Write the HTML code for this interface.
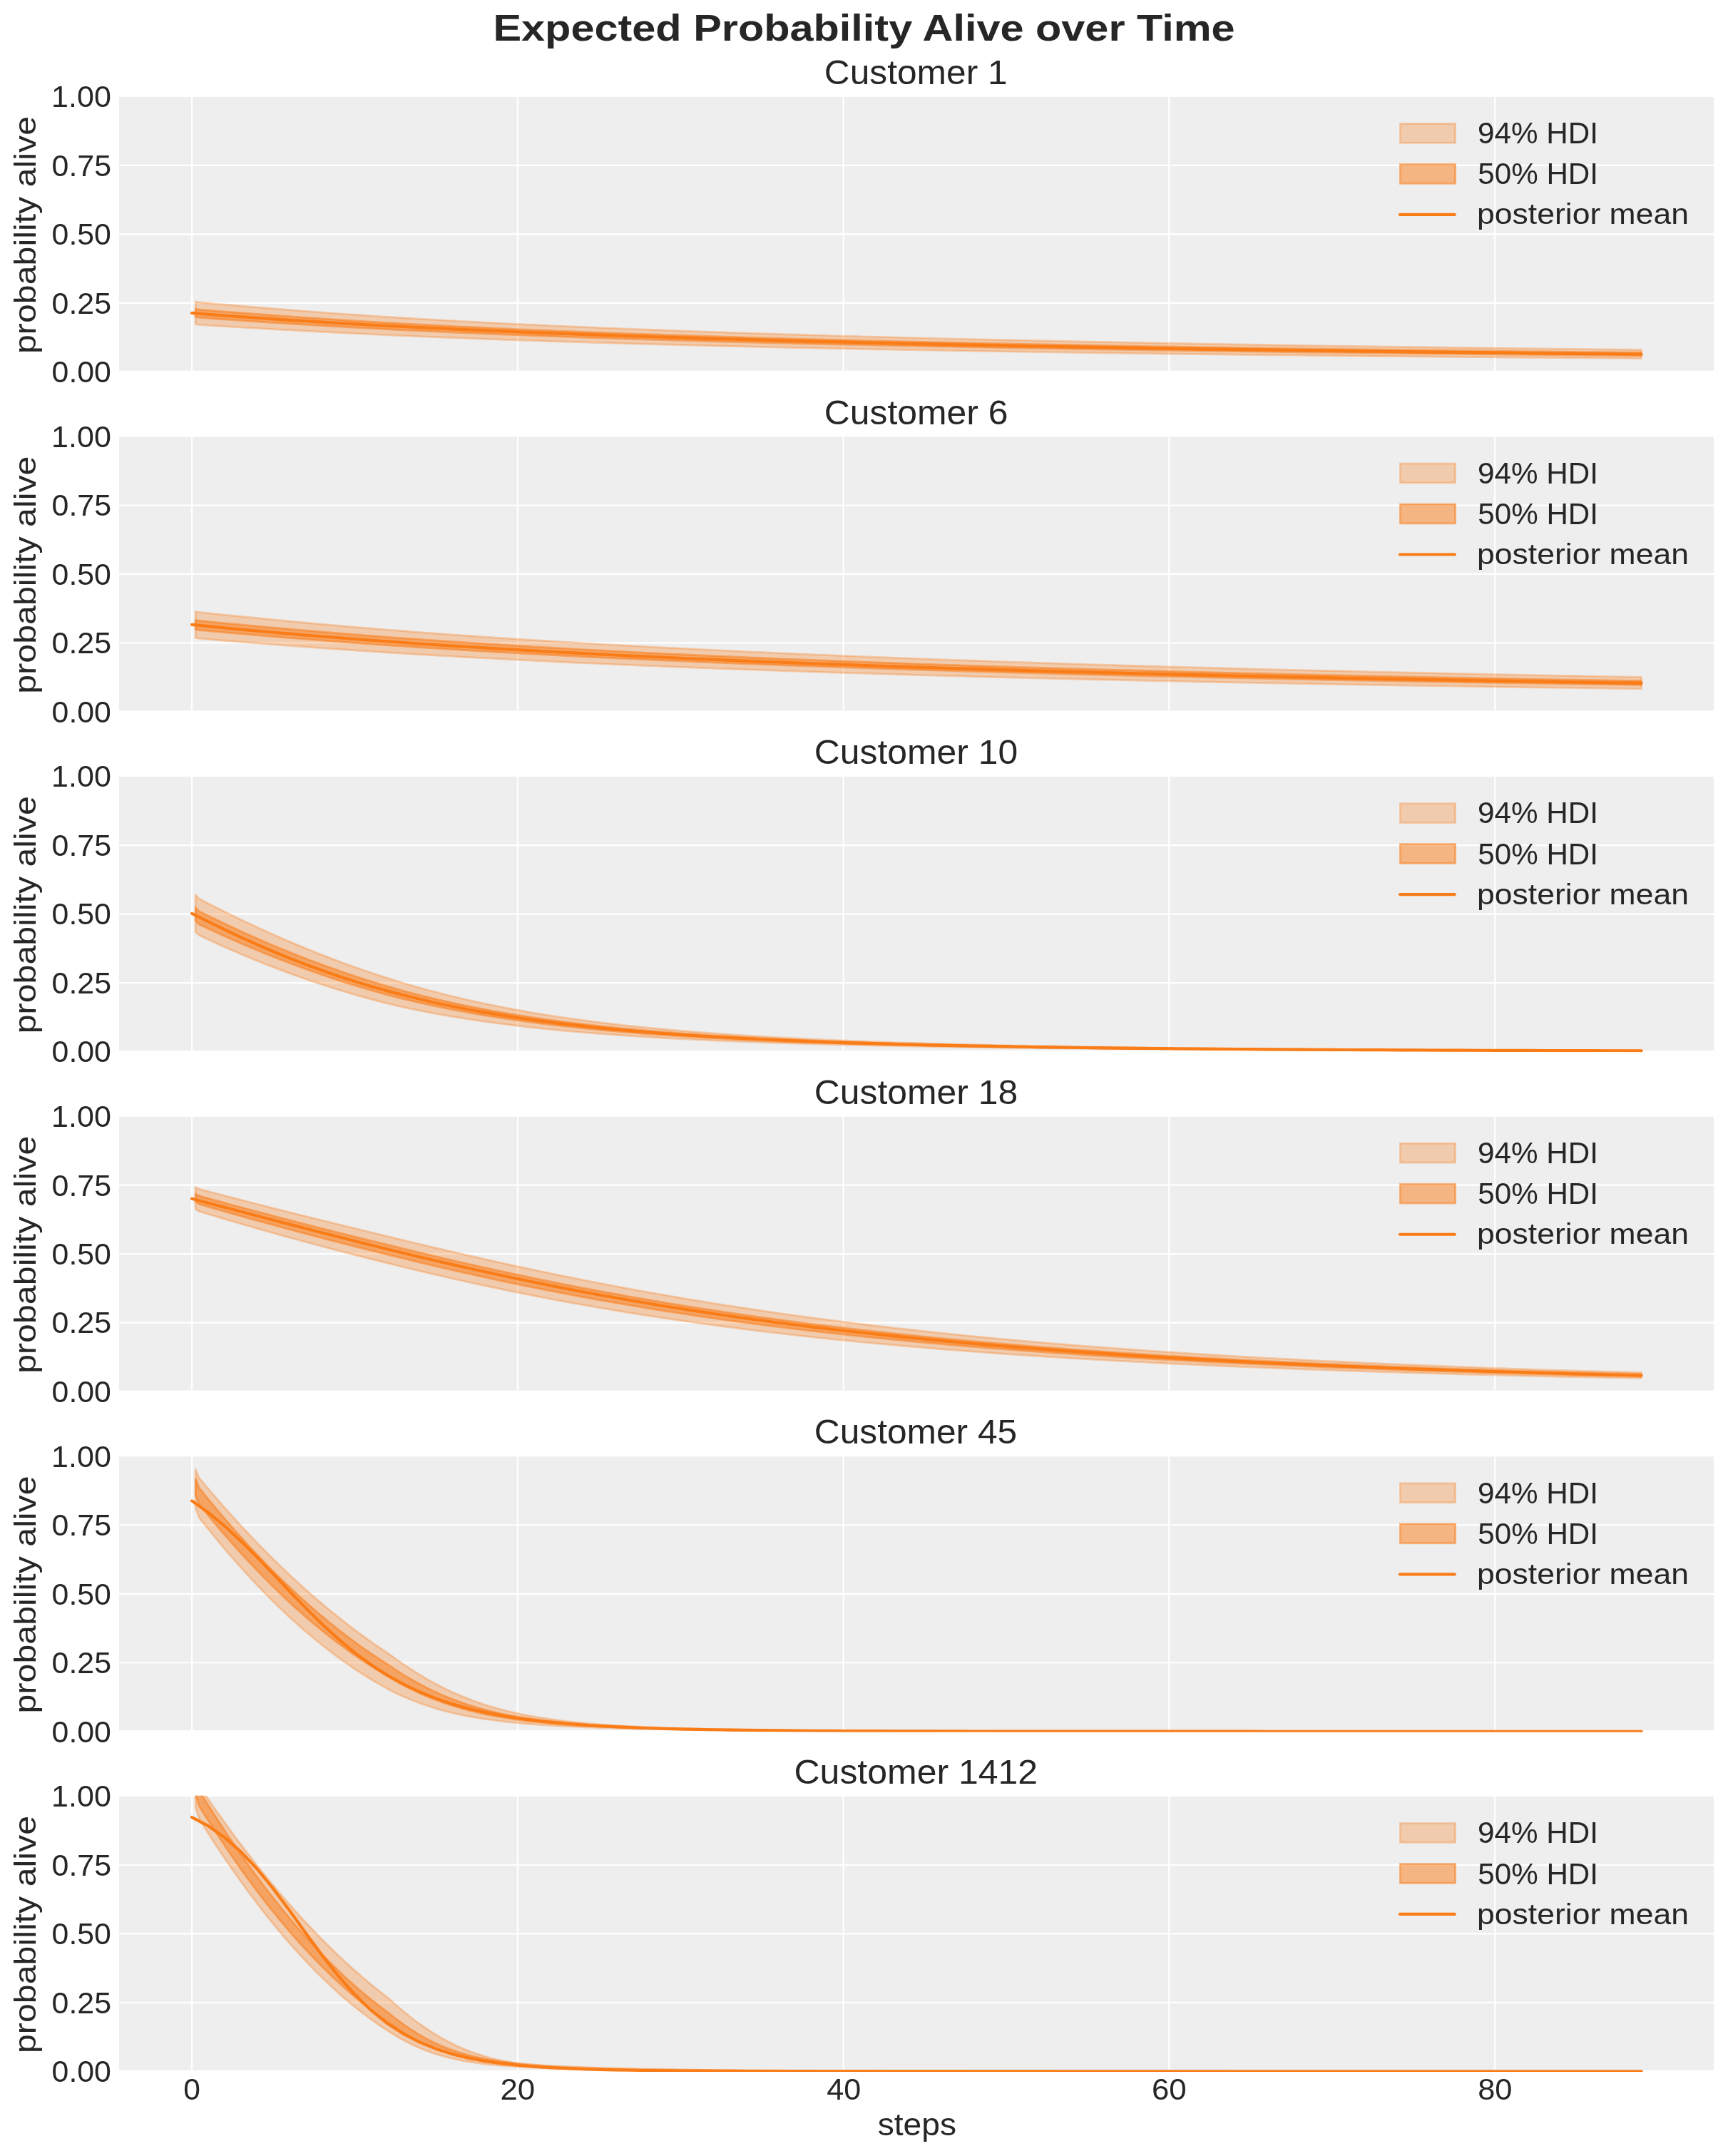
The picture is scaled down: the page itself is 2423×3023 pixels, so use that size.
<!DOCTYPE html><html><head><meta charset="utf-8"><title>Expected Probability Alive over Time</title><style>html,body{margin:0;padding:0;background:#fff;overflow:hidden}svg{display:block}text{font-family:"Liberation Sans",sans-serif}svg{will-change:transform}</style></head><body>
<svg width="2423" height="3023" viewBox="0 0 2423 3023">
<rect x="0" y="0" width="2423" height="3023" fill="#ffffff"/>
<defs>
<clipPath id="c0"><rect x="167.0" y="134.80" width="2236.0" height="387.20"/></clipPath>
<clipPath id="c1"><rect x="167.0" y="611.41" width="2236.0" height="387.20"/></clipPath>
<clipPath id="c2"><rect x="167.0" y="1088.02" width="2236.0" height="387.20"/></clipPath>
<clipPath id="c3"><rect x="167.0" y="1564.63" width="2236.0" height="387.20"/></clipPath>
<clipPath id="c4"><rect x="167.0" y="2041.24" width="2236.0" height="387.20"/></clipPath>
<clipPath id="c5"><rect x="167.0" y="2517.85" width="2236.0" height="387.20"/></clipPath>
</defs>
<text transform="matrix(0.59431 0 0 0.51262 691.44 57.23)" font-size="100" font-weight="bold" fill="#262626">Expected Probability Alive over Time</text>
<g><rect x="167.0" y="136.00" width="2236.0" height="383.7" fill="#eeeeee"/><path d="M269.10,136.00V519.70M725.85,136.00V519.70M1182.60,136.00V519.70M1639.35,136.00V519.70M2096.10,136.00V519.70M167.0,424.82H2403.0M167.0,328.35H2403.0M167.0,231.88H2403.0" stroke="#ffffff" stroke-width="2.2" fill="none"/><g clip-path="url(#c0)"><path d="M274.21,422.89 L279.31,423.83 L289.53,424.75 L299.74,425.67 L309.96,426.57 L320.17,427.47 L330.38,428.35 L340.60,429.22 L350.81,430.08 L361.02,430.93 L371.24,431.78 L381.45,432.61 L391.67,433.43 L401.88,434.24 L412.09,435.04 L422.31,435.82 L432.52,436.60 L442.73,437.37 L452.95,438.13 L463.16,438.88 L473.38,439.61 L483.59,440.34 L493.80,441.05 L504.02,441.76 L514.23,442.45 L524.44,443.14 L534.66,443.81 L544.87,444.47 L555.09,445.12 L565.30,445.74 L575.51,446.36 L585.73,446.96 L595.94,447.56 L606.15,448.15 L616.37,448.73 L626.58,449.29 L636.80,449.85 L647.01,450.41 L657.22,450.95 L667.44,451.49 L677.65,452.02 L687.86,452.54 L698.08,453.05 L708.29,453.56 L718.51,454.06 L728.72,454.55 L738.93,455.03 L749.15,455.51 L759.36,455.98 L769.57,456.45 L779.79,456.91 L790.00,457.36 L800.22,457.81 L810.43,458.25 L820.64,458.68 L830.86,459.11 L841.07,459.53 L851.28,459.95 L861.50,460.36 L871.71,460.77 L881.93,461.17 L892.14,461.57 L902.35,461.96 L912.57,462.35 L922.78,462.73 L932.99,463.11 L943.21,463.48 L953.42,463.85 L963.64,464.22 L973.85,464.57 L984.06,464.93 L994.28,465.28 L1004.49,465.63 L1014.70,465.97 L1024.92,466.31 L1035.13,466.64 L1045.35,466.97 L1055.56,467.30 L1065.77,467.62 L1075.99,467.94 L1086.20,468.26 L1096.41,468.57 L1106.63,468.88 L1116.84,469.18 L1127.06,469.49 L1137.27,469.78 L1147.48,470.08 L1157.70,470.37 L1167.91,470.66 L1178.12,470.95 L1188.34,471.23 L1198.55,471.51 L1208.77,471.78 L1218.98,472.06 L1229.19,472.33 L1239.41,472.60 L1249.62,472.86 L1259.83,473.12 L1270.05,473.38 L1280.26,473.64 L1290.48,473.89 L1300.69,474.15 L1310.90,474.40 L1321.12,474.64 L1331.33,474.89 L1341.54,475.13 L1351.76,475.37 L1361.97,475.60 L1372.19,475.84 L1382.40,476.07 L1392.61,476.30 L1402.83,476.53 L1413.04,476.75 L1423.25,476.98 L1433.47,477.20 L1443.68,477.42 L1453.90,477.63 L1464.11,477.85 L1474.32,478.06 L1484.54,478.27 L1494.75,478.48 L1504.96,478.69 L1515.18,478.89 L1525.39,479.10 L1535.61,479.30 L1545.82,479.50 L1556.03,479.69 L1566.25,479.89 L1576.46,480.08 L1586.67,480.28 L1596.89,480.47 L1607.10,480.66 L1617.32,480.84 L1627.53,481.03 L1637.74,481.21 L1647.96,481.39 L1658.17,481.58 L1668.38,481.75 L1678.60,481.93 L1688.81,482.11 L1699.03,482.28 L1709.24,482.46 L1719.45,482.63 L1729.67,482.80 L1739.88,482.97 L1750.09,483.13 L1760.31,483.30 L1770.52,483.46 L1780.74,483.63 L1790.95,483.79 L1801.16,483.95 L1811.38,484.11 L1821.59,484.27 L1831.80,484.42 L1842.02,484.58 L1852.23,484.73 L1862.45,484.88 L1872.66,485.04 L1882.87,485.19 L1893.09,485.34 L1903.30,485.48 L1913.51,485.63 L1923.73,485.78 L1933.94,485.92 L1944.16,486.06 L1954.37,486.21 L1964.58,486.35 L1974.80,486.49 L1985.01,486.63 L1995.22,486.76 L2005.44,486.90 L2015.65,487.04 L2025.87,487.17 L2036.08,487.31 L2046.29,487.44 L2056.51,487.57 L2066.72,487.70 L2076.93,487.83 L2087.15,487.96 L2097.36,488.09 L2107.58,488.22 L2117.79,488.35 L2128.00,488.47 L2138.22,488.60 L2148.43,488.72 L2158.64,488.84 L2168.86,488.96 L2179.07,489.08 L2189.29,489.20 L2199.50,489.32 L2209.71,489.44 L2219.93,489.55 L2230.14,489.67 L2240.35,489.78 L2250.57,489.89 L2260.78,490.01 L2271.00,490.12 L2281.21,490.23 L2291.42,490.34 L2301.64,490.44 L2301.64,502.54 L2291.42,502.47 L2281.21,502.39 L2271.00,502.32 L2260.78,502.24 L2250.57,502.16 L2240.35,502.08 L2230.14,502.00 L2219.93,501.92 L2209.71,501.84 L2199.50,501.76 L2189.29,501.68 L2179.07,501.60 L2168.86,501.51 L2158.64,501.43 L2148.43,501.34 L2138.22,501.26 L2128.00,501.17 L2117.79,501.08 L2107.58,500.99 L2097.36,500.90 L2087.15,500.82 L2076.93,500.72 L2066.72,500.63 L2056.51,500.54 L2046.29,500.45 L2036.08,500.35 L2025.87,500.26 L2015.65,500.17 L2005.44,500.07 L1995.22,499.98 L1985.01,499.88 L1974.80,499.78 L1964.58,499.68 L1954.37,499.58 L1944.16,499.48 L1933.94,499.38 L1923.73,499.28 L1913.51,499.18 L1903.30,499.08 L1893.09,498.97 L1882.87,498.87 L1872.66,498.76 L1862.45,498.65 L1852.23,498.55 L1842.02,498.44 L1831.80,498.33 L1821.59,498.22 L1811.38,498.11 L1801.16,498.00 L1790.95,497.88 L1780.74,497.77 L1770.52,497.65 L1760.31,497.54 L1750.09,497.42 L1739.88,497.30 L1729.67,497.18 L1719.45,497.06 L1709.24,496.94 L1699.03,496.82 L1688.81,496.70 L1678.60,496.57 L1668.38,496.45 L1658.17,496.32 L1647.96,496.19 L1637.74,496.06 L1627.53,495.93 L1617.32,495.80 L1607.10,495.67 L1596.89,495.53 L1586.67,495.40 L1576.46,495.26 L1566.25,495.12 L1556.03,494.99 L1545.82,494.85 L1535.61,494.70 L1525.39,494.56 L1515.18,494.42 L1504.96,494.27 L1494.75,494.12 L1484.54,493.98 L1474.32,493.83 L1464.11,493.67 L1453.90,493.52 L1443.68,493.37 L1433.47,493.21 L1423.25,493.05 L1413.04,492.89 L1402.83,492.73 L1392.61,492.57 L1382.40,492.41 L1372.19,492.24 L1361.97,492.08 L1351.76,491.91 L1341.54,491.74 L1331.33,491.56 L1321.12,491.39 L1310.90,491.21 L1300.69,491.04 L1290.48,490.86 L1280.26,490.68 L1270.05,490.49 L1259.83,490.31 L1249.62,490.12 L1239.41,489.93 L1229.19,489.74 L1218.98,489.55 L1208.77,489.35 L1198.55,489.15 L1188.34,488.95 L1178.12,488.75 L1167.91,488.55 L1157.70,488.34 L1147.48,488.13 L1137.27,487.92 L1127.06,487.71 L1116.84,487.49 L1106.63,487.27 L1096.41,487.05 L1086.20,486.83 L1075.99,486.60 L1065.77,486.37 L1055.56,486.14 L1045.35,485.91 L1035.13,485.67 L1024.92,485.43 L1014.70,485.19 L1004.49,484.95 L994.28,484.70 L984.06,484.45 L973.85,484.19 L963.64,483.94 L953.42,483.67 L943.21,483.41 L932.99,483.14 L922.78,482.87 L912.57,482.60 L902.35,482.32 L892.14,482.04 L881.93,481.76 L871.71,481.47 L861.50,481.18 L851.28,480.88 L841.07,480.59 L830.86,480.28 L820.64,479.98 L810.43,479.67 L800.22,479.35 L790.00,479.03 L779.79,478.71 L769.57,478.38 L759.36,478.05 L749.15,477.71 L738.93,477.37 L728.72,477.02 L718.51,476.67 L708.29,476.32 L698.08,475.96 L687.86,475.59 L677.65,475.22 L667.44,474.84 L657.22,474.46 L647.01,474.07 L636.80,473.68 L626.58,473.28 L616.37,472.88 L606.15,472.47 L595.94,472.05 L585.73,471.63 L575.51,471.20 L565.30,470.76 L555.09,470.32 L544.87,469.86 L534.66,469.39 L524.44,468.92 L514.23,468.43 L504.02,467.95 L493.80,467.45 L483.59,466.95 L473.38,466.44 L463.16,465.92 L452.95,465.39 L442.73,464.86 L432.52,464.32 L422.31,463.78 L412.09,463.22 L401.88,462.66 L391.67,462.10 L381.45,461.52 L371.24,460.94 L361.02,460.35 L350.81,459.76 L340.60,459.16 L330.38,458.55 L320.17,457.93 L309.96,457.30 L299.74,456.67 L289.53,456.04 L279.31,455.39 L274.21,454.74Z" fill="#fa7c17" fill-opacity="0.3" stroke="#fa7c17" stroke-opacity="0.3" stroke-width="2.78" stroke-linejoin="round"/><path d="M274.21,433.22 L279.31,434.06 L289.53,434.89 L299.74,435.71 L309.96,436.53 L320.17,437.33 L330.38,438.12 L340.60,438.91 L350.81,439.68 L361.02,440.45 L371.24,441.21 L381.45,441.96 L391.67,442.69 L401.88,443.42 L412.09,444.14 L422.31,444.85 L432.52,445.55 L442.73,446.25 L452.95,446.93 L463.16,447.60 L473.38,448.27 L483.59,448.92 L493.80,449.57 L504.02,450.20 L514.23,450.83 L524.44,451.45 L534.66,452.05 L544.87,452.65 L555.09,453.24 L565.30,453.80 L575.51,454.36 L585.73,454.91 L595.94,455.44 L606.15,455.98 L616.37,456.50 L626.58,457.01 L636.80,457.52 L647.01,458.02 L657.22,458.51 L667.44,459.00 L677.65,459.48 L687.86,459.95 L698.08,460.42 L708.29,460.87 L718.51,461.33 L728.72,461.77 L738.93,462.21 L749.15,462.65 L759.36,463.07 L769.57,463.50 L779.79,463.91 L790.00,464.32 L800.22,464.73 L810.43,465.13 L820.64,465.52 L830.86,465.91 L841.07,466.30 L851.28,466.67 L861.50,467.05 L871.71,467.42 L881.93,467.78 L892.14,468.14 L902.35,468.50 L912.57,468.85 L922.78,469.20 L932.99,469.54 L943.21,469.88 L953.42,470.21 L963.64,470.54 L973.85,470.87 L984.06,471.19 L994.28,471.51 L1004.49,471.83 L1014.70,472.14 L1024.92,472.44 L1035.13,472.75 L1045.35,473.05 L1055.56,473.35 L1065.77,473.64 L1075.99,473.93 L1086.20,474.22 L1096.41,474.50 L1106.63,474.78 L1116.84,475.06 L1127.06,475.33 L1137.27,475.60 L1147.48,475.87 L1157.70,476.14 L1167.91,476.40 L1178.12,476.66 L1188.34,476.91 L1198.55,477.17 L1208.77,477.42 L1218.98,477.67 L1229.19,477.91 L1239.41,478.16 L1249.62,478.40 L1259.83,478.63 L1270.05,478.87 L1280.26,479.10 L1290.48,479.33 L1300.69,479.56 L1310.90,479.79 L1321.12,480.01 L1331.33,480.23 L1341.54,480.45 L1351.76,480.67 L1361.97,480.89 L1372.19,481.10 L1382.40,481.31 L1392.61,481.52 L1402.83,481.72 L1413.04,481.93 L1423.25,482.13 L1433.47,482.33 L1443.68,482.53 L1453.90,482.73 L1464.11,482.92 L1474.32,483.12 L1484.54,483.31 L1494.75,483.50 L1504.96,483.69 L1515.18,483.87 L1525.39,484.06 L1535.61,484.24 L1545.82,484.42 L1556.03,484.60 L1566.25,484.78 L1576.46,484.95 L1586.67,485.13 L1596.89,485.30 L1607.10,485.47 L1617.32,485.64 L1627.53,485.81 L1637.74,485.98 L1647.96,486.14 L1658.17,486.30 L1668.38,486.47 L1678.60,486.63 L1688.81,486.79 L1699.03,486.95 L1709.24,487.10 L1719.45,487.26 L1729.67,487.41 L1739.88,487.57 L1750.09,487.72 L1760.31,487.87 L1770.52,488.02 L1780.74,488.16 L1790.95,488.31 L1801.16,488.46 L1811.38,488.60 L1821.59,488.74 L1831.80,488.89 L1842.02,489.03 L1852.23,489.17 L1862.45,489.30 L1872.66,489.44 L1882.87,489.58 L1893.09,489.71 L1903.30,489.85 L1913.51,489.98 L1923.73,490.11 L1933.94,490.24 L1944.16,490.37 L1954.37,490.50 L1964.58,490.63 L1974.80,490.75 L1985.01,490.88 L1995.22,491.01 L2005.44,491.13 L2015.65,491.25 L2025.87,491.37 L2036.08,491.50 L2046.29,491.62 L2056.51,491.74 L2066.72,491.86 L2076.93,491.97 L2087.15,492.09 L2097.36,492.21 L2107.58,492.32 L2117.79,492.44 L2128.00,492.55 L2138.22,492.66 L2148.43,492.77 L2158.64,492.88 L2168.86,492.99 L2179.07,493.10 L2189.29,493.21 L2199.50,493.32 L2209.71,493.42 L2219.93,493.53 L2230.14,493.63 L2240.35,493.73 L2250.57,493.84 L2260.78,493.94 L2271.00,494.04 L2281.21,494.14 L2291.42,494.24 L2301.64,494.33 L2301.64,498.66 L2291.42,498.58 L2281.21,498.49 L2271.00,498.40 L2260.78,498.32 L2250.57,498.23 L2240.35,498.14 L2230.14,498.05 L2219.93,497.96 L2209.71,497.86 L2199.50,497.77 L2189.29,497.68 L2179.07,497.58 L2168.86,497.49 L2158.64,497.39 L2148.43,497.29 L2138.22,497.19 L2128.00,497.10 L2117.79,497.00 L2107.58,496.90 L2097.36,496.79 L2087.15,496.69 L2076.93,496.59 L2066.72,496.48 L2056.51,496.38 L2046.29,496.27 L2036.08,496.17 L2025.87,496.06 L2015.65,495.95 L2005.44,495.84 L1995.22,495.73 L1985.01,495.62 L1974.80,495.51 L1964.58,495.40 L1954.37,495.29 L1944.16,495.18 L1933.94,495.06 L1923.73,494.95 L1913.51,494.83 L1903.30,494.71 L1893.09,494.59 L1882.87,494.47 L1872.66,494.35 L1862.45,494.23 L1852.23,494.11 L1842.02,493.99 L1831.80,493.86 L1821.59,493.74 L1811.38,493.61 L1801.16,493.49 L1790.95,493.36 L1780.74,493.23 L1770.52,493.10 L1760.31,492.96 L1750.09,492.83 L1739.88,492.70 L1729.67,492.56 L1719.45,492.43 L1709.24,492.29 L1699.03,492.15 L1688.81,492.01 L1678.60,491.87 L1668.38,491.73 L1658.17,491.58 L1647.96,491.44 L1637.74,491.29 L1627.53,491.14 L1617.32,491.00 L1607.10,490.85 L1596.89,490.69 L1586.67,490.54 L1576.46,490.39 L1566.25,490.23 L1556.03,490.07 L1545.82,489.91 L1535.61,489.75 L1525.39,489.59 L1515.18,489.43 L1504.96,489.26 L1494.75,489.10 L1484.54,488.93 L1474.32,488.76 L1464.11,488.59 L1453.90,488.42 L1443.68,488.24 L1433.47,488.07 L1423.25,487.89 L1413.04,487.71 L1402.83,487.53 L1392.61,487.34 L1382.40,487.16 L1372.19,486.97 L1361.97,486.78 L1351.76,486.59 L1341.54,486.40 L1331.33,486.21 L1321.12,486.01 L1310.90,485.81 L1300.69,485.61 L1290.48,485.41 L1280.26,485.20 L1270.05,485.00 L1259.83,484.79 L1249.62,484.58 L1239.41,484.36 L1229.19,484.15 L1218.98,483.93 L1208.77,483.71 L1198.55,483.48 L1188.34,483.26 L1178.12,483.03 L1167.91,482.80 L1157.70,482.57 L1147.48,482.33 L1137.27,482.10 L1127.06,481.85 L1116.84,481.61 L1106.63,481.37 L1096.41,481.12 L1086.20,480.86 L1075.99,480.61 L1065.77,480.35 L1055.56,480.09 L1045.35,479.83 L1035.13,479.56 L1024.92,479.29 L1014.70,479.02 L1004.49,478.74 L994.28,478.46 L984.06,478.18 L973.85,477.89 L963.64,477.60 L953.42,477.31 L943.21,477.01 L932.99,476.71 L922.78,476.41 L912.57,476.10 L902.35,475.79 L892.14,475.47 L881.93,475.15 L871.71,474.83 L861.50,474.50 L851.28,474.17 L841.07,473.83 L830.86,473.49 L820.64,473.14 L810.43,472.79 L800.22,472.44 L790.00,472.08 L779.79,471.72 L769.57,471.35 L759.36,470.97 L749.15,470.59 L738.93,470.21 L728.72,469.82 L718.51,469.42 L708.29,469.02 L698.08,468.61 L687.86,468.20 L677.65,467.78 L667.44,467.36 L657.22,466.93 L647.01,466.49 L636.80,466.05 L626.58,465.60 L616.37,465.14 L606.15,464.68 L595.94,464.21 L585.73,463.73 L575.51,463.25 L565.30,462.75 L555.09,462.25 L544.87,461.74 L534.66,461.21 L524.44,460.67 L514.23,460.12 L504.02,459.57 L493.80,459.01 L483.59,458.44 L473.38,457.86 L463.16,457.28 L452.95,456.68 L442.73,456.08 L432.52,455.47 L422.31,454.85 L412.09,454.23 L401.88,453.59 L391.67,452.95 L381.45,452.30 L371.24,451.64 L361.02,450.97 L350.81,450.30 L340.60,449.61 L330.38,448.92 L320.17,448.22 L309.96,447.51 L299.74,446.80 L289.53,446.07 L279.31,445.34 L274.21,444.60Z" fill="#fa7c17" fill-opacity="0.5" stroke="#fa7c17" stroke-opacity="0.5" stroke-width="2.78" stroke-linejoin="round"/><path d="M269.10,438.93 L291.94,440.74 L314.78,442.48 L337.61,444.15 L360.45,445.77 L383.29,447.33 L406.12,448.83 L428.96,450.28 L451.80,451.68 L474.64,453.03 L497.48,454.33 L520.31,455.60 L543.15,456.82 L565.99,458.00 L588.83,459.14 L611.66,460.25 L634.50,461.32 L657.34,462.36 L680.17,463.37 L703.01,464.35 L725.85,465.30 L748.69,466.22 L771.52,467.12 L794.36,467.99 L817.20,468.83 L840.04,469.66 L862.88,470.46 L885.71,471.24 L908.55,471.99 L931.39,472.73 L954.23,473.45 L977.06,474.15 L999.90,474.83 L1022.74,475.49 L1045.57,476.14 L1068.41,476.77 L1091.25,477.39 L1114.09,477.99 L1136.92,478.57 L1159.76,479.15 L1182.60,479.70 L1205.44,480.25 L1228.28,480.78 L1251.11,481.30 L1273.95,481.81 L1296.79,482.31 L1319.62,482.80 L1342.46,483.27 L1365.30,483.74 L1388.14,484.20 L1410.97,484.64 L1433.81,485.08 L1456.65,485.50 L1479.49,485.92 L1502.32,486.33 L1525.16,486.73 L1548.00,487.13 L1570.84,487.51 L1593.67,487.89 L1616.51,488.26 L1639.35,488.62 L1662.19,488.98 L1685.03,489.33 L1707.86,489.67 L1730.70,490.01 L1753.54,490.33 L1776.38,490.66 L1799.21,490.98 L1822.05,491.29 L1844.89,491.59 L1867.72,491.89 L1890.56,492.19 L1913.40,492.48 L1936.24,492.76 L1959.07,493.04 L1981.91,493.32 L2004.75,493.59 L2027.59,493.85 L2050.42,494.11 L2073.26,494.37 L2096.10,494.62 L2118.94,494.87 L2141.78,495.11 L2164.61,495.35 L2187.45,495.59 L2210.29,495.82 L2233.12,496.05 L2255.96,496.28 L2278.80,496.50 L2301.64,496.71" fill="none" stroke="#fa7c17" stroke-width="4.17" stroke-linecap="round" stroke-linejoin="round"/></g><rect x="1963.4" y="173.40" width="77.2" height="26.9" fill="#fa7c17" fill-opacity="0.3" stroke="#fa7c17" stroke-opacity="0.3" stroke-width="2.78"/><rect x="1963.4" y="230.40" width="77.2" height="26.9" fill="#fa7c17" fill-opacity="0.5" stroke="#fa7c17" stroke-opacity="0.5" stroke-width="2.78"/><path d="M1963.0,300.90H2039.8" stroke="#fa7c17" stroke-width="4.17" stroke-linecap="round"/><text transform="matrix(0.42225 0 0 0.43099 2072.10 201.27)" font-size="100" fill="#262626">94% HDI</text><text transform="matrix(0.42171 0 0 0.42817 2072.31 258.47)" font-size="100" fill="#262626">50% HDI</text><text transform="matrix(0.44511 0 0 0.40642 2071.11 314.47)" font-size="100" fill="#262626">posterior mean</text><text transform="matrix(0.49704 0 0 0.48028 1155.81 117.92)" font-size="100" fill="#262626">Customer 1</text><text transform="matrix(0 -0.48342 0.42353 0 49.91 496.04)" font-size="100" fill="#262626">probability alive</text><text transform="matrix(0.42781 0 0 0.42676 72.59 536.12)" font-size="100" fill="#262626">0.00</text><text transform="matrix(0.42895 0 0 0.42676 72.58 439.65)" font-size="100" fill="#262626">0.25</text><text transform="matrix(0.42781 0 0 0.42676 72.59 343.17)" font-size="100" fill="#262626">0.50</text><text transform="matrix(0.42895 0 0 0.42676 72.58 246.70)" font-size="100" fill="#262626">0.75</text><text transform="matrix(0.43052 0 0 0.42676 72.07 150.22)" font-size="100" fill="#262626">1.00</text></g>
<g><rect x="167.0" y="612.61" width="2236.0" height="383.7" fill="#eeeeee"/><path d="M269.10,612.61V996.31M725.85,612.61V996.31M1182.60,612.61V996.31M1639.35,612.61V996.31M2096.10,612.61V996.31M167.0,901.43H2403.0M167.0,804.96H2403.0M167.0,708.49H2403.0" stroke="#ffffff" stroke-width="2.2" fill="none"/><g clip-path="url(#c1)"><path d="M274.21,857.33 L279.31,858.42 L289.53,859.49 L299.74,860.56 L309.96,861.61 L320.17,862.66 L330.38,863.69 L340.60,864.72 L350.81,865.73 L361.02,866.74 L371.24,867.73 L381.45,868.72 L391.67,869.70 L401.88,870.66 L412.09,871.62 L422.31,872.56 L432.52,873.50 L442.73,874.42 L452.95,875.34 L463.16,876.25 L473.38,877.14 L483.59,878.03 L493.80,878.91 L504.02,879.77 L514.23,880.63 L524.44,881.48 L534.66,882.31 L544.87,883.14 L555.09,883.96 L565.30,884.75 L575.51,885.54 L585.73,886.32 L595.94,887.08 L606.15,887.84 L616.37,888.59 L626.58,889.33 L636.80,890.06 L647.01,890.78 L657.22,891.50 L667.44,892.20 L677.65,892.90 L687.86,893.59 L698.08,894.27 L708.29,894.95 L718.51,895.61 L728.72,896.27 L738.93,896.93 L749.15,897.57 L759.36,898.21 L769.57,898.84 L779.79,899.46 L790.00,900.08 L800.22,900.69 L810.43,901.29 L820.64,901.89 L830.86,902.48 L841.07,903.06 L851.28,903.64 L861.50,904.21 L871.71,904.78 L881.93,905.34 L892.14,905.89 L902.35,906.44 L912.57,906.98 L922.78,907.52 L932.99,908.05 L943.21,908.57 L953.42,909.09 L963.64,909.61 L973.85,910.12 L984.06,910.62 L994.28,911.12 L1004.49,911.62 L1014.70,912.11 L1024.92,912.59 L1035.13,913.07 L1045.35,913.55 L1055.56,914.02 L1065.77,914.48 L1075.99,914.94 L1086.20,915.40 L1096.41,915.85 L1106.63,916.30 L1116.84,916.75 L1127.06,917.19 L1137.27,917.62 L1147.48,918.05 L1157.70,918.48 L1167.91,918.90 L1178.12,919.32 L1188.34,919.74 L1198.55,920.15 L1208.77,920.56 L1218.98,920.96 L1229.19,921.36 L1239.41,921.76 L1249.62,922.15 L1259.83,922.54 L1270.05,922.92 L1280.26,923.31 L1290.48,923.68 L1300.69,924.06 L1310.90,924.43 L1321.12,924.80 L1331.33,925.17 L1341.54,925.53 L1351.76,925.89 L1361.97,926.24 L1372.19,926.60 L1382.40,926.95 L1392.61,927.29 L1402.83,927.64 L1413.04,927.98 L1423.25,928.32 L1433.47,928.65 L1443.68,928.98 L1453.90,929.31 L1464.11,929.64 L1474.32,929.96 L1484.54,930.28 L1494.75,930.60 L1504.96,930.92 L1515.18,931.23 L1525.39,931.54 L1535.61,931.85 L1545.82,932.16 L1556.03,932.46 L1566.25,932.76 L1576.46,933.06 L1586.67,933.35 L1596.89,933.65 L1607.10,933.94 L1617.32,934.23 L1627.53,934.51 L1637.74,934.80 L1647.96,935.08 L1658.17,935.36 L1668.38,935.63 L1678.60,935.91 L1688.81,936.18 L1699.03,936.45 L1709.24,936.72 L1719.45,936.99 L1729.67,937.25 L1739.88,937.52 L1750.09,937.78 L1760.31,938.04 L1770.52,938.29 L1780.74,938.55 L1790.95,938.80 L1801.16,939.05 L1811.38,939.30 L1821.59,939.55 L1831.80,939.79 L1842.02,940.03 L1852.23,940.28 L1862.45,940.52 L1872.66,940.75 L1882.87,940.99 L1893.09,941.22 L1903.30,941.46 L1913.51,941.69 L1923.73,941.92 L1933.94,942.15 L1944.16,942.37 L1954.37,942.60 L1964.58,942.82 L1974.80,943.04 L1985.01,943.26 L1995.22,943.48 L2005.44,943.69 L2015.65,943.91 L2025.87,944.12 L2036.08,944.34 L2046.29,944.55 L2056.51,944.76 L2066.72,944.97 L2076.93,945.17 L2087.15,945.38 L2097.36,945.58 L2107.58,945.79 L2117.79,945.99 L2128.00,946.19 L2138.22,946.38 L2148.43,946.58 L2158.64,946.78 L2168.86,946.97 L2179.07,947.16 L2189.29,947.35 L2199.50,947.54 L2209.71,947.73 L2219.93,947.91 L2230.14,948.10 L2240.35,948.28 L2250.57,948.46 L2260.78,948.64 L2271.00,948.82 L2281.21,949.00 L2291.42,949.17 L2301.64,949.35 L2301.64,965.81 L2291.42,965.68 L2281.21,965.55 L2271.00,965.42 L2260.78,965.29 L2250.57,965.16 L2240.35,965.03 L2230.14,964.89 L2219.93,964.76 L2209.71,964.62 L2199.50,964.48 L2189.29,964.34 L2179.07,964.20 L2168.86,964.06 L2158.64,963.92 L2148.43,963.77 L2138.22,963.63 L2128.00,963.48 L2117.79,963.34 L2107.58,963.19 L2097.36,963.04 L2087.15,962.89 L2076.93,962.73 L2066.72,962.58 L2056.51,962.43 L2046.29,962.27 L2036.08,962.11 L2025.87,961.95 L2015.65,961.80 L2005.44,961.64 L1995.22,961.48 L1985.01,961.31 L1974.80,961.15 L1964.58,960.99 L1954.37,960.82 L1944.16,960.65 L1933.94,960.48 L1923.73,960.31 L1913.51,960.14 L1903.30,959.97 L1893.09,959.80 L1882.87,959.62 L1872.66,959.45 L1862.45,959.27 L1852.23,959.09 L1842.02,958.91 L1831.80,958.73 L1821.59,958.54 L1811.38,958.36 L1801.16,958.17 L1790.95,957.99 L1780.74,957.80 L1770.52,957.61 L1760.31,957.41 L1750.09,957.22 L1739.88,957.02 L1729.67,956.83 L1719.45,956.63 L1709.24,956.43 L1699.03,956.23 L1688.81,956.02 L1678.60,955.82 L1668.38,955.61 L1658.17,955.40 L1647.96,955.19 L1637.74,954.98 L1627.53,954.77 L1617.32,954.55 L1607.10,954.33 L1596.89,954.11 L1586.67,953.89 L1576.46,953.67 L1566.25,953.44 L1556.03,953.22 L1545.82,952.99 L1535.61,952.76 L1525.39,952.52 L1515.18,952.29 L1504.96,952.05 L1494.75,951.81 L1484.54,951.57 L1474.32,951.33 L1464.11,951.08 L1453.90,950.83 L1443.68,950.58 L1433.47,950.33 L1423.25,950.08 L1413.04,949.82 L1402.83,949.56 L1392.61,949.30 L1382.40,949.04 L1372.19,948.77 L1361.97,948.50 L1351.76,948.23 L1341.54,947.96 L1331.33,947.68 L1321.12,947.40 L1310.90,947.12 L1300.69,946.84 L1290.48,946.55 L1280.26,946.26 L1270.05,945.97 L1259.83,945.67 L1249.62,945.37 L1239.41,945.07 L1229.19,944.77 L1218.98,944.46 L1208.77,944.15 L1198.55,943.84 L1188.34,943.53 L1178.12,943.21 L1167.91,942.88 L1157.70,942.56 L1147.48,942.23 L1137.27,941.90 L1127.06,941.56 L1116.84,941.23 L1106.63,940.88 L1096.41,940.54 L1086.20,940.19 L1075.99,939.84 L1065.77,939.48 L1055.56,939.12 L1045.35,938.76 L1035.13,938.39 L1024.92,938.02 L1014.70,937.65 L1004.49,937.27 L994.28,936.89 L984.06,936.50 L973.85,936.11 L963.64,935.71 L953.42,935.31 L943.21,934.91 L932.99,934.50 L922.78,934.09 L912.57,933.67 L902.35,933.25 L892.14,932.83 L881.93,932.40 L871.71,931.96 L861.50,931.52 L851.28,931.08 L841.07,930.63 L830.86,930.17 L820.64,929.71 L810.43,929.24 L800.22,928.77 L790.00,928.30 L779.79,927.82 L769.57,927.33 L759.36,926.84 L749.15,926.34 L738.93,925.83 L728.72,925.32 L718.51,924.81 L708.29,924.28 L698.08,923.75 L687.86,923.22 L677.65,922.68 L667.44,922.13 L657.22,921.57 L647.01,921.01 L636.80,920.44 L626.58,919.87 L616.37,919.29 L606.15,918.70 L595.94,918.10 L585.73,917.50 L575.51,916.88 L565.30,916.26 L555.09,915.64 L544.87,914.99 L534.66,914.34 L524.44,913.67 L514.23,913.00 L504.02,912.33 L493.80,911.64 L483.59,910.95 L473.38,910.24 L463.16,909.53 L452.95,908.81 L442.73,908.09 L432.52,907.35 L422.31,906.61 L412.09,905.86 L401.88,905.10 L391.67,904.33 L381.45,903.55 L371.24,902.77 L361.02,901.98 L350.81,901.18 L340.60,900.37 L330.38,899.55 L320.17,898.73 L309.96,897.90 L299.74,897.06 L289.53,896.21 L279.31,895.35 L274.21,894.48Z" fill="#fa7c17" fill-opacity="0.3" stroke="#fa7c17" stroke-opacity="0.3" stroke-width="2.78" stroke-linejoin="round"/><path d="M274.21,869.31 L279.31,870.33 L289.53,871.33 L299.74,872.32 L309.96,873.31 L320.17,874.28 L330.38,875.25 L340.60,876.21 L350.81,877.15 L361.02,878.09 L371.24,879.02 L381.45,879.94 L391.67,880.85 L401.88,881.75 L412.09,882.64 L422.31,883.53 L432.52,884.40 L442.73,885.26 L452.95,886.12 L463.16,886.96 L473.38,887.80 L483.59,888.62 L493.80,889.44 L504.02,890.25 L514.23,891.05 L524.44,891.84 L534.66,892.62 L544.87,893.39 L555.09,894.15 L565.30,894.89 L575.51,895.62 L585.73,896.34 L595.94,897.06 L606.15,897.76 L616.37,898.46 L626.58,899.15 L636.80,899.83 L647.01,900.50 L657.22,901.17 L667.44,901.82 L677.65,902.47 L687.86,903.11 L698.08,903.75 L708.29,904.38 L718.51,905.00 L728.72,905.61 L738.93,906.22 L749.15,906.81 L759.36,907.41 L769.57,907.99 L779.79,908.57 L790.00,909.14 L800.22,909.71 L810.43,910.27 L820.64,910.83 L830.86,911.37 L841.07,911.92 L851.28,912.45 L861.50,912.98 L871.71,913.51 L881.93,914.03 L892.14,914.54 L902.35,915.05 L912.57,915.55 L922.78,916.05 L932.99,916.54 L943.21,917.03 L953.42,917.51 L963.64,917.99 L973.85,918.46 L984.06,918.93 L994.28,919.39 L1004.49,919.85 L1014.70,920.31 L1024.92,920.76 L1035.13,921.20 L1045.35,921.64 L1055.56,922.08 L1065.77,922.51 L1075.99,922.94 L1086.20,923.36 L1096.41,923.78 L1106.63,924.19 L1116.84,924.60 L1127.06,925.01 L1137.27,925.41 L1147.48,925.81 L1157.70,926.21 L1167.91,926.60 L1178.12,926.99 L1188.34,927.37 L1198.55,927.75 L1208.77,928.13 L1218.98,928.50 L1229.19,928.87 L1239.41,929.24 L1249.62,929.60 L1259.83,929.96 L1270.05,930.32 L1280.26,930.67 L1290.48,931.02 L1300.69,931.37 L1310.90,931.71 L1321.12,932.05 L1331.33,932.39 L1341.54,932.72 L1351.76,933.06 L1361.97,933.39 L1372.19,933.71 L1382.40,934.03 L1392.61,934.35 L1402.83,934.67 L1413.04,934.99 L1423.25,935.30 L1433.47,935.61 L1443.68,935.91 L1453.90,936.22 L1464.11,936.52 L1474.32,936.82 L1484.54,937.11 L1494.75,937.41 L1504.96,937.70 L1515.18,937.99 L1525.39,938.27 L1535.61,938.56 L1545.82,938.84 L1556.03,939.12 L1566.25,939.40 L1576.46,939.67 L1586.67,939.94 L1596.89,940.21 L1607.10,940.48 L1617.32,940.75 L1627.53,941.01 L1637.74,941.27 L1647.96,941.53 L1658.17,941.79 L1668.38,942.04 L1678.60,942.30 L1688.81,942.55 L1699.03,942.80 L1709.24,943.05 L1719.45,943.29 L1729.67,943.53 L1739.88,943.78 L1750.09,944.02 L1760.31,944.25 L1770.52,944.49 L1780.74,944.72 L1790.95,944.96 L1801.16,945.19 L1811.38,945.42 L1821.59,945.64 L1831.80,945.87 L1842.02,946.09 L1852.23,946.31 L1862.45,946.53 L1872.66,946.75 L1882.87,946.97 L1893.09,947.19 L1903.30,947.40 L1913.51,947.61 L1923.73,947.82 L1933.94,948.03 L1944.16,948.24 L1954.37,948.45 L1964.58,948.65 L1974.80,948.85 L1985.01,949.05 L1995.22,949.25 L2005.44,949.45 L2015.65,949.65 L2025.87,949.85 L2036.08,950.04 L2046.29,950.24 L2056.51,950.43 L2066.72,950.62 L2076.93,950.81 L2087.15,951.00 L2097.36,951.19 L2107.58,951.37 L2117.79,951.56 L2128.00,951.74 L2138.22,951.92 L2148.43,952.10 L2158.64,952.28 L2168.86,952.46 L2179.07,952.63 L2189.29,952.81 L2199.50,952.98 L2209.71,953.15 L2219.93,953.32 L2230.14,953.49 L2240.35,953.66 L2250.57,953.83 L2260.78,953.99 L2271.00,954.15 L2281.21,954.32 L2291.42,954.48 L2301.64,954.64 L2301.64,960.53 L2291.42,960.39 L2281.21,960.24 L2271.00,960.10 L2260.78,959.95 L2250.57,959.80 L2240.35,959.65 L2230.14,959.50 L2219.93,959.35 L2209.71,959.20 L2199.50,959.05 L2189.29,958.89 L2179.07,958.73 L2168.86,958.58 L2158.64,958.42 L2148.43,958.26 L2138.22,958.09 L2128.00,957.93 L2117.79,957.77 L2107.58,957.60 L2097.36,957.43 L2087.15,957.27 L2076.93,957.10 L2066.72,956.93 L2056.51,956.75 L2046.29,956.58 L2036.08,956.41 L2025.87,956.23 L2015.65,956.05 L2005.44,955.88 L1995.22,955.70 L1985.01,955.52 L1974.80,955.34 L1964.58,955.15 L1954.37,954.97 L1944.16,954.78 L1933.94,954.60 L1923.73,954.41 L1913.51,954.22 L1903.30,954.03 L1893.09,953.83 L1882.87,953.64 L1872.66,953.45 L1862.45,953.25 L1852.23,953.05 L1842.02,952.85 L1831.80,952.65 L1821.59,952.44 L1811.38,952.24 L1801.16,952.03 L1790.95,951.83 L1780.74,951.62 L1770.52,951.40 L1760.31,951.19 L1750.09,950.98 L1739.88,950.76 L1729.67,950.54 L1719.45,950.32 L1709.24,950.10 L1699.03,949.88 L1688.81,949.65 L1678.60,949.42 L1668.38,949.20 L1658.17,948.97 L1647.96,948.73 L1637.74,948.50 L1627.53,948.26 L1617.32,948.02 L1607.10,947.78 L1596.89,947.54 L1586.67,947.30 L1576.46,947.05 L1566.25,946.80 L1556.03,946.55 L1545.82,946.30 L1535.61,946.04 L1525.39,945.79 L1515.18,945.53 L1504.96,945.26 L1494.75,945.00 L1484.54,944.73 L1474.32,944.47 L1464.11,944.20 L1453.90,943.92 L1443.68,943.65 L1433.47,943.37 L1423.25,943.09 L1413.04,942.81 L1402.83,942.52 L1392.61,942.23 L1382.40,941.94 L1372.19,941.65 L1361.97,941.35 L1351.76,941.06 L1341.54,940.75 L1331.33,940.45 L1321.12,940.14 L1310.90,939.83 L1300.69,939.52 L1290.48,939.21 L1280.26,938.89 L1270.05,938.57 L1259.83,938.24 L1249.62,937.92 L1239.41,937.59 L1229.19,937.25 L1218.98,936.92 L1208.77,936.58 L1198.55,936.23 L1188.34,935.89 L1178.12,935.54 L1167.91,935.18 L1157.70,934.83 L1147.48,934.47 L1137.27,934.10 L1127.06,933.74 L1116.84,933.37 L1106.63,932.99 L1096.41,932.61 L1086.20,932.23 L1075.99,931.85 L1065.77,931.46 L1055.56,931.06 L1045.35,930.67 L1035.13,930.27 L1024.92,929.86 L1014.70,929.45 L1004.49,929.04 L994.28,928.62 L984.06,928.19 L973.85,927.77 L963.64,927.34 L953.42,926.90 L943.21,926.46 L932.99,926.01 L922.78,925.56 L912.57,925.11 L902.35,924.65 L892.14,924.18 L881.93,923.71 L871.71,923.24 L861.50,922.76 L851.28,922.27 L841.07,921.78 L830.86,921.29 L820.64,920.79 L810.43,920.28 L800.22,919.77 L790.00,919.25 L779.79,918.72 L769.57,918.19 L759.36,917.65 L749.15,917.11 L738.93,916.56 L728.72,916.01 L718.51,915.45 L708.29,914.88 L698.08,914.30 L687.86,913.72 L677.65,913.13 L667.44,912.54 L657.22,911.93 L647.01,911.32 L636.80,910.71 L626.58,910.08 L616.37,909.45 L606.15,908.81 L595.94,908.16 L585.73,907.51 L575.51,906.84 L565.30,906.17 L555.09,905.49 L544.87,904.79 L534.66,904.08 L524.44,903.36 L514.23,902.64 L504.02,901.90 L493.80,901.16 L483.59,900.41 L473.38,899.65 L463.16,898.88 L452.95,898.10 L442.73,897.31 L432.52,896.52 L422.31,895.71 L412.09,894.90 L401.88,894.08 L391.67,893.25 L381.45,892.41 L371.24,891.56 L361.02,890.71 L350.81,889.84 L340.60,888.97 L330.38,888.09 L320.17,887.19 L309.96,886.30 L299.74,885.39 L289.53,884.47 L279.31,883.54 L274.21,882.61Z" fill="#fa7c17" fill-opacity="0.5" stroke="#fa7c17" stroke-opacity="0.5" stroke-width="2.78" stroke-linejoin="round"/><path d="M269.10,875.82 L291.94,878.14 L314.78,880.38 L337.61,882.56 L360.45,884.66 L383.29,886.71 L406.12,888.69 L428.96,890.61 L451.80,892.48 L474.64,894.29 L497.48,896.04 L520.31,897.75 L543.15,899.41 L565.99,901.02 L588.83,902.59 L611.66,904.11 L634.50,905.60 L657.34,907.04 L680.17,908.45 L703.01,909.81 L725.85,911.14 L748.69,912.44 L771.52,913.71 L794.36,914.94 L817.20,916.14 L840.04,917.31 L862.88,918.46 L885.71,919.57 L908.55,920.66 L931.39,921.72 L954.23,922.76 L977.06,923.77 L999.90,924.76 L1022.74,925.73 L1045.57,926.68 L1068.41,927.60 L1091.25,928.50 L1114.09,929.39 L1136.92,930.25 L1159.76,931.09 L1182.60,931.92 L1205.44,932.73 L1228.28,933.52 L1251.11,934.30 L1273.95,935.06 L1296.79,935.80 L1319.62,936.53 L1342.46,937.24 L1365.30,937.94 L1388.14,938.62 L1410.97,939.30 L1433.81,939.95 L1456.65,940.60 L1479.49,941.23 L1502.32,941.85 L1525.16,942.46 L1548.00,943.06 L1570.84,943.65 L1593.67,944.22 L1616.51,944.79 L1639.35,945.34 L1662.19,945.89 L1685.03,946.42 L1707.86,946.95 L1730.70,947.46 L1753.54,947.97 L1776.38,948.47 L1799.21,948.96 L1822.05,949.44 L1844.89,949.91 L1867.72,950.37 L1890.56,950.83 L1913.40,951.28 L1936.24,951.72 L1959.07,952.15 L1981.91,952.58 L2004.75,953.00 L2027.59,953.41 L2050.42,953.82 L2073.26,954.22 L2096.10,954.62 L2118.94,955.00 L2141.78,955.38 L2164.61,955.76 L2187.45,956.13 L2210.29,956.49 L2233.12,956.85 L2255.96,957.21 L2278.80,957.55 L2301.64,957.90" fill="none" stroke="#fa7c17" stroke-width="4.17" stroke-linecap="round" stroke-linejoin="round"/></g><rect x="1963.4" y="650.01" width="77.2" height="26.9" fill="#fa7c17" fill-opacity="0.3" stroke="#fa7c17" stroke-opacity="0.3" stroke-width="2.78"/><rect x="1963.4" y="707.01" width="77.2" height="26.9" fill="#fa7c17" fill-opacity="0.5" stroke="#fa7c17" stroke-opacity="0.5" stroke-width="2.78"/><path d="M1963.0,777.51H2039.8" stroke="#fa7c17" stroke-width="4.17" stroke-linecap="round"/><text transform="matrix(0.42225 0 0 0.43099 2072.10 677.88)" font-size="100" fill="#262626">94% HDI</text><text transform="matrix(0.42171 0 0 0.42817 2072.31 735.08)" font-size="100" fill="#262626">50% HDI</text><text transform="matrix(0.44511 0 0 0.40642 2071.11 791.08)" font-size="100" fill="#262626">posterior mean</text><text transform="matrix(0.49852 0 0 0.48028 1155.81 594.53)" font-size="100" fill="#262626">Customer 6</text><text transform="matrix(0 -0.48342 0.42353 0 49.91 972.65)" font-size="100" fill="#262626">probability alive</text><text transform="matrix(0.42781 0 0 0.42676 72.59 1012.73)" font-size="100" fill="#262626">0.00</text><text transform="matrix(0.42895 0 0 0.42676 72.58 916.26)" font-size="100" fill="#262626">0.25</text><text transform="matrix(0.42781 0 0 0.42676 72.59 819.78)" font-size="100" fill="#262626">0.50</text><text transform="matrix(0.42895 0 0 0.42676 72.58 723.31)" font-size="100" fill="#262626">0.75</text><text transform="matrix(0.43052 0 0 0.42676 72.07 626.83)" font-size="100" fill="#262626">1.00</text></g>
<g><rect x="167.0" y="1089.22" width="2236.0" height="383.7" fill="#eeeeee"/><path d="M269.10,1089.22V1472.92M725.85,1089.22V1472.92M1182.60,1089.22V1472.92M1639.35,1089.22V1472.92M2096.10,1089.22V1472.92M167.0,1378.05H2403.0M167.0,1281.57H2403.0M167.0,1185.10H2403.0" stroke="#ffffff" stroke-width="2.2" fill="none"/><g clip-path="url(#c2)"><path d="M274.21,1254.70 L279.31,1260.09 L289.53,1265.41 L299.74,1270.64 L309.96,1275.80 L320.17,1280.87 L330.38,1285.86 L340.60,1290.77 L350.81,1295.60 L361.02,1300.34 L371.24,1305.01 L381.45,1309.59 L391.67,1314.10 L401.88,1318.52 L412.09,1322.86 L422.31,1327.12 L432.52,1331.30 L442.73,1335.40 L452.95,1339.41 L463.16,1343.35 L473.38,1347.20 L483.59,1350.97 L493.80,1354.67 L504.02,1358.28 L514.23,1361.81 L524.44,1365.25 L534.66,1368.62 L544.87,1371.91 L555.09,1375.15 L565.30,1378.25 L575.51,1381.26 L585.73,1384.17 L595.94,1387.01 L606.15,1389.75 L616.37,1392.42 L626.58,1395.00 L636.80,1397.50 L647.01,1399.92 L657.22,1402.27 L667.44,1404.54 L677.65,1406.74 L687.86,1408.87 L698.08,1410.93 L708.29,1412.92 L718.51,1414.85 L728.72,1416.71 L738.93,1418.52 L749.15,1420.26 L759.36,1421.95 L769.57,1423.57 L779.79,1425.15 L790.00,1426.67 L800.22,1428.14 L810.43,1429.57 L820.64,1430.94 L830.86,1432.27 L841.07,1433.55 L851.28,1434.80 L861.50,1436.00 L871.71,1437.16 L881.93,1438.28 L892.14,1439.36 L902.35,1440.41 L912.57,1441.42 L922.78,1442.40 L932.99,1443.35 L943.21,1444.26 L953.42,1445.15 L963.64,1446.01 L973.85,1446.83 L984.06,1447.63 L994.28,1448.41 L1004.49,1449.16 L1014.70,1449.88 L1024.92,1450.58 L1035.13,1451.26 L1045.35,1451.92 L1055.56,1452.55 L1065.77,1453.17 L1075.99,1453.76 L1086.20,1454.34 L1096.41,1454.90 L1106.63,1455.44 L1116.84,1455.96 L1127.06,1456.47 L1137.27,1456.96 L1147.48,1457.44 L1157.70,1457.90 L1167.91,1458.34 L1178.12,1458.77 L1188.34,1459.19 L1198.55,1459.60 L1208.77,1459.99 L1218.98,1460.37 L1229.19,1460.74 L1239.41,1461.10 L1249.62,1461.45 L1259.83,1461.79 L1270.05,1462.12 L1280.26,1462.43 L1290.48,1462.74 L1300.69,1463.04 L1310.90,1463.33 L1321.12,1463.61 L1331.33,1463.89 L1341.54,1464.15 L1351.76,1464.41 L1361.97,1464.66 L1372.19,1464.90 L1382.40,1465.14 L1392.61,1465.37 L1402.83,1465.59 L1413.04,1465.81 L1423.25,1466.02 L1433.47,1466.22 L1443.68,1466.42 L1453.90,1466.61 L1464.11,1466.80 L1474.32,1466.98 L1484.54,1467.16 L1494.75,1467.33 L1504.96,1467.50 L1515.18,1467.66 L1525.39,1467.82 L1535.61,1467.98 L1545.82,1468.13 L1556.03,1468.27 L1566.25,1468.41 L1576.46,1468.55 L1586.67,1468.69 L1596.89,1468.82 L1607.10,1468.95 L1617.32,1469.07 L1627.53,1469.19 L1637.74,1469.31 L1647.96,1469.42 L1658.17,1469.54 L1668.38,1469.64 L1678.60,1469.75 L1688.81,1469.85 L1699.03,1469.96 L1709.24,1470.05 L1719.45,1470.15 L1729.67,1470.24 L1739.88,1470.33 L1750.09,1470.42 L1760.31,1470.51 L1770.52,1470.59 L1780.74,1470.67 L1790.95,1470.75 L1801.16,1470.83 L1811.38,1470.91 L1821.59,1470.98 L1831.80,1471.06 L1842.02,1471.13 L1852.23,1471.20 L1862.45,1471.26 L1872.66,1471.33 L1882.87,1471.39 L1893.09,1471.46 L1903.30,1471.52 L1913.51,1471.58 L1923.73,1471.64 L1933.94,1471.69 L1944.16,1471.75 L1954.37,1471.80 L1964.58,1471.86 L1974.80,1471.91 L1985.01,1471.96 L1995.22,1472.01 L2005.44,1472.06 L2015.65,1472.10 L2025.87,1472.15 L2036.08,1472.20 L2046.29,1472.24 L2056.51,1472.29 L2066.72,1472.33 L2076.93,1472.38 L2087.15,1472.42 L2097.36,1472.46 L2107.58,1472.50 L2117.79,1472.54 L2128.00,1472.57 L2138.22,1472.61 L2148.43,1472.65 L2158.64,1472.68 L2168.86,1472.71 L2179.07,1472.75 L2189.29,1472.78 L2199.50,1472.81 L2209.71,1472.84 L2219.93,1472.86 L2230.14,1472.89 L2240.35,1472.92 L2250.57,1472.94 L2260.78,1472.96 L2271.00,1472.98 L2281.21,1473.01 L2291.42,1473.03 L2301.64,1473.04 L2301.64,1473.51 L2291.42,1473.49 L2281.21,1473.48 L2271.00,1473.47 L2260.78,1473.45 L2250.57,1473.44 L2240.35,1473.42 L2230.14,1473.41 L2219.93,1473.39 L2209.71,1473.37 L2199.50,1473.35 L2189.29,1473.33 L2179.07,1473.31 L2168.86,1473.29 L2158.64,1473.27 L2148.43,1473.25 L2138.22,1473.23 L2128.00,1473.21 L2117.79,1473.18 L2107.58,1473.16 L2097.36,1473.13 L2087.15,1473.11 L2076.93,1473.08 L2066.72,1473.05 L2056.51,1473.03 L2046.29,1473.00 L2036.08,1472.97 L2025.87,1472.94 L2015.65,1472.91 L2005.44,1472.88 L1995.22,1472.85 L1985.01,1472.82 L1974.80,1472.79 L1964.58,1472.75 L1954.37,1472.72 L1944.16,1472.69 L1933.94,1472.65 L1923.73,1472.62 L1913.51,1472.58 L1903.30,1472.54 L1893.09,1472.50 L1882.87,1472.47 L1872.66,1472.43 L1862.45,1472.39 L1852.23,1472.34 L1842.02,1472.30 L1831.80,1472.26 L1821.59,1472.21 L1811.38,1472.17 L1801.16,1472.12 L1790.95,1472.07 L1780.74,1472.02 L1770.52,1471.97 L1760.31,1471.92 L1750.09,1471.87 L1739.88,1471.81 L1729.67,1471.76 L1719.45,1471.70 L1709.24,1471.64 L1699.03,1471.58 L1688.81,1471.52 L1678.60,1471.46 L1668.38,1471.39 L1658.17,1471.32 L1647.96,1471.26 L1637.74,1471.19 L1627.53,1471.11 L1617.32,1471.04 L1607.10,1470.97 L1596.89,1470.89 L1586.67,1470.81 L1576.46,1470.73 L1566.25,1470.64 L1556.03,1470.56 L1545.82,1470.47 L1535.61,1470.38 L1525.39,1470.28 L1515.18,1470.19 L1504.96,1470.09 L1494.75,1469.99 L1484.54,1469.88 L1474.32,1469.78 L1464.11,1469.67 L1453.90,1469.55 L1443.68,1469.44 L1433.47,1469.32 L1423.25,1469.19 L1413.04,1469.07 L1402.83,1468.94 L1392.61,1468.80 L1382.40,1468.67 L1372.19,1468.52 L1361.97,1468.38 L1351.76,1468.23 L1341.54,1468.07 L1331.33,1467.91 L1321.12,1467.75 L1310.90,1467.58 L1300.69,1467.41 L1290.48,1467.23 L1280.26,1467.04 L1270.05,1466.85 L1259.83,1466.65 L1249.62,1466.45 L1239.41,1466.24 L1229.19,1466.03 L1218.98,1465.81 L1208.77,1465.58 L1198.55,1465.34 L1188.34,1465.10 L1178.12,1464.84 L1167.91,1464.58 L1157.70,1464.32 L1147.48,1464.04 L1137.27,1463.75 L1127.06,1463.46 L1116.84,1463.15 L1106.63,1462.84 L1096.41,1462.51 L1086.20,1462.18 L1075.99,1461.83 L1065.77,1461.47 L1055.56,1461.10 L1045.35,1460.71 L1035.13,1460.31 L1024.92,1459.90 L1014.70,1459.48 L1004.49,1459.04 L994.28,1458.58 L984.06,1458.11 L973.85,1457.62 L963.64,1457.12 L953.42,1456.59 L943.21,1456.05 L932.99,1455.49 L922.78,1454.91 L912.57,1454.30 L902.35,1453.68 L892.14,1453.03 L881.93,1452.36 L871.71,1451.66 L861.50,1450.94 L851.28,1450.19 L841.07,1449.41 L830.86,1448.61 L820.64,1447.77 L810.43,1446.90 L800.22,1446.00 L790.00,1445.07 L779.79,1444.10 L769.57,1443.09 L759.36,1442.04 L749.15,1440.95 L738.93,1439.82 L728.72,1438.65 L718.51,1437.43 L708.29,1436.16 L698.08,1434.84 L687.86,1433.48 L677.65,1432.05 L667.44,1430.57 L657.22,1429.04 L647.01,1427.44 L636.80,1425.78 L626.58,1424.05 L616.37,1422.26 L606.15,1420.39 L595.94,1418.45 L585.73,1416.44 L575.51,1414.34 L565.30,1412.17 L555.09,1409.91 L544.87,1407.49 L534.66,1404.89 L524.44,1402.20 L514.23,1399.42 L504.02,1396.56 L493.80,1393.61 L483.59,1390.57 L473.38,1387.45 L463.16,1384.24 L452.95,1380.94 L442.73,1377.56 L432.52,1374.09 L422.31,1370.53 L412.09,1366.88 L401.88,1363.15 L391.67,1359.33 L381.45,1355.42 L371.24,1351.43 L361.02,1347.35 L350.81,1343.18 L340.60,1338.93 L330.38,1334.58 L320.17,1330.16 L309.96,1325.64 L299.74,1321.04 L289.53,1316.35 L279.31,1311.57 L274.21,1306.71Z" fill="#fa7c17" fill-opacity="0.3" stroke="#fa7c17" stroke-opacity="0.3" stroke-width="2.78" stroke-linejoin="round"/><path d="M274.21,1272.51 L279.31,1277.68 L289.53,1282.78 L299.74,1287.78 L309.96,1292.71 L320.17,1297.56 L330.38,1302.32 L340.60,1307.00 L350.81,1311.60 L361.02,1316.12 L371.24,1320.56 L381.45,1324.91 L391.67,1329.19 L401.88,1333.38 L412.09,1337.49 L422.31,1341.51 L432.52,1345.46 L442.73,1349.32 L452.95,1353.10 L463.16,1356.80 L473.38,1360.42 L483.59,1363.96 L493.80,1367.41 L504.02,1370.78 L514.23,1374.07 L524.44,1377.28 L534.66,1380.41 L544.87,1383.45 L555.09,1386.42 L565.30,1389.23 L575.51,1391.96 L585.73,1394.60 L595.94,1397.16 L606.15,1399.64 L616.37,1402.03 L626.58,1404.36 L636.80,1406.60 L647.01,1408.77 L657.22,1410.87 L667.44,1412.90 L677.65,1414.86 L687.86,1416.76 L698.08,1418.59 L708.29,1420.36 L718.51,1422.07 L728.72,1423.72 L738.93,1425.32 L749.15,1426.86 L759.36,1428.36 L769.57,1429.80 L779.79,1431.19 L790.00,1432.53 L800.22,1433.83 L810.43,1435.08 L820.64,1436.29 L830.86,1437.46 L841.07,1438.59 L851.28,1439.68 L861.50,1440.74 L871.71,1441.76 L881.93,1442.74 L892.14,1443.69 L902.35,1444.61 L912.57,1445.50 L922.78,1446.36 L932.99,1447.19 L943.21,1447.99 L953.42,1448.77 L963.64,1449.52 L973.85,1450.24 L984.06,1450.94 L994.28,1451.62 L1004.49,1452.27 L1014.70,1452.91 L1024.92,1453.52 L1035.13,1454.12 L1045.35,1454.69 L1055.56,1455.25 L1065.77,1455.78 L1075.99,1456.30 L1086.20,1456.81 L1096.41,1457.30 L1106.63,1457.77 L1116.84,1458.23 L1127.06,1458.67 L1137.27,1459.10 L1147.48,1459.51 L1157.70,1459.92 L1167.91,1460.31 L1178.12,1460.69 L1188.34,1461.05 L1198.55,1461.41 L1208.77,1461.75 L1218.98,1462.09 L1229.19,1462.41 L1239.41,1462.72 L1249.62,1463.03 L1259.83,1463.32 L1270.05,1463.61 L1280.26,1463.89 L1290.48,1464.16 L1300.69,1464.42 L1310.90,1464.67 L1321.12,1464.92 L1331.33,1465.16 L1341.54,1465.39 L1351.76,1465.62 L1361.97,1465.83 L1372.19,1466.05 L1382.40,1466.25 L1392.61,1466.45 L1402.83,1466.65 L1413.04,1466.84 L1423.25,1467.02 L1433.47,1467.20 L1443.68,1467.38 L1453.90,1467.55 L1464.11,1467.71 L1474.32,1467.87 L1484.54,1468.02 L1494.75,1468.18 L1504.96,1468.32 L1515.18,1468.47 L1525.39,1468.61 L1535.61,1468.74 L1545.82,1468.87 L1556.03,1469.00 L1566.25,1469.13 L1576.46,1469.25 L1586.67,1469.36 L1596.89,1469.48 L1607.10,1469.59 L1617.32,1469.70 L1627.53,1469.81 L1637.74,1469.91 L1647.96,1470.01 L1658.17,1470.11 L1668.38,1470.21 L1678.60,1470.30 L1688.81,1470.39 L1699.03,1470.48 L1709.24,1470.56 L1719.45,1470.65 L1729.67,1470.73 L1739.88,1470.81 L1750.09,1470.89 L1760.31,1470.97 L1770.52,1471.04 L1780.74,1471.11 L1790.95,1471.18 L1801.16,1471.25 L1811.38,1471.32 L1821.59,1471.38 L1831.80,1471.45 L1842.02,1471.51 L1852.23,1471.57 L1862.45,1471.63 L1872.66,1471.69 L1882.87,1471.75 L1893.09,1471.80 L1903.30,1471.85 L1913.51,1471.91 L1923.73,1471.96 L1933.94,1472.01 L1944.16,1472.06 L1954.37,1472.11 L1964.58,1472.15 L1974.80,1472.20 L1985.01,1472.24 L1995.22,1472.29 L2005.44,1472.33 L2015.65,1472.37 L2025.87,1472.41 L2036.08,1472.45 L2046.29,1472.50 L2056.51,1472.54 L2066.72,1472.57 L2076.93,1472.61 L2087.15,1472.65 L2097.36,1472.69 L2107.58,1472.72 L2117.79,1472.75 L2128.00,1472.79 L2138.22,1472.82 L2148.43,1472.85 L2158.64,1472.88 L2168.86,1472.91 L2179.07,1472.94 L2189.29,1472.97 L2199.50,1472.99 L2209.71,1473.02 L2219.93,1473.04 L2230.14,1473.07 L2240.35,1473.09 L2250.57,1473.11 L2260.78,1473.13 L2271.00,1473.15 L2281.21,1473.17 L2291.42,1473.19 L2301.64,1473.20 L2301.64,1473.46 L2291.42,1473.45 L2281.21,1473.43 L2271.00,1473.42 L2260.78,1473.40 L2250.57,1473.38 L2240.35,1473.37 L2230.14,1473.35 L2219.93,1473.33 L2209.71,1473.31 L2199.50,1473.29 L2189.29,1473.26 L2179.07,1473.24 L2168.86,1473.22 L2158.64,1473.20 L2148.43,1473.17 L2138.22,1473.14 L2128.00,1473.12 L2117.79,1473.09 L2107.58,1473.06 L2097.36,1473.03 L2087.15,1473.00 L2076.93,1472.97 L2066.72,1472.94 L2056.51,1472.91 L2046.29,1472.88 L2036.08,1472.84 L2025.87,1472.81 L2015.65,1472.78 L2005.44,1472.74 L1995.22,1472.71 L1985.01,1472.67 L1974.80,1472.63 L1964.58,1472.59 L1954.37,1472.56 L1944.16,1472.52 L1933.94,1472.48 L1923.73,1472.43 L1913.51,1472.39 L1903.30,1472.35 L1893.09,1472.30 L1882.87,1472.26 L1872.66,1472.21 L1862.45,1472.16 L1852.23,1472.11 L1842.02,1472.06 L1831.80,1472.01 L1821.59,1471.96 L1811.38,1471.90 L1801.16,1471.85 L1790.95,1471.79 L1780.74,1471.73 L1770.52,1471.67 L1760.31,1471.61 L1750.09,1471.55 L1739.88,1471.48 L1729.67,1471.42 L1719.45,1471.35 L1709.24,1471.28 L1699.03,1471.21 L1688.81,1471.13 L1678.60,1471.06 L1668.38,1470.98 L1658.17,1470.90 L1647.96,1470.82 L1637.74,1470.73 L1627.53,1470.65 L1617.32,1470.56 L1607.10,1470.47 L1596.89,1470.37 L1586.67,1470.28 L1576.46,1470.18 L1566.25,1470.08 L1556.03,1469.97 L1545.82,1469.87 L1535.61,1469.76 L1525.39,1469.64 L1515.18,1469.53 L1504.96,1469.41 L1494.75,1469.28 L1484.54,1469.16 L1474.32,1469.03 L1464.11,1468.89 L1453.90,1468.75 L1443.68,1468.61 L1433.47,1468.47 L1423.25,1468.32 L1413.04,1468.16 L1402.83,1468.00 L1392.61,1467.84 L1382.40,1467.67 L1372.19,1467.50 L1361.97,1467.32 L1351.76,1467.13 L1341.54,1466.94 L1331.33,1466.75 L1321.12,1466.55 L1310.90,1466.34 L1300.69,1466.13 L1290.48,1465.90 L1280.26,1465.68 L1270.05,1465.44 L1259.83,1465.20 L1249.62,1464.95 L1239.41,1464.70 L1229.19,1464.43 L1218.98,1464.16 L1208.77,1463.87 L1198.55,1463.58 L1188.34,1463.28 L1178.12,1462.97 L1167.91,1462.65 L1157.70,1462.32 L1147.48,1461.98 L1137.27,1461.63 L1127.06,1461.26 L1116.84,1460.89 L1106.63,1460.50 L1096.41,1460.10 L1086.20,1459.68 L1075.99,1459.25 L1065.77,1458.81 L1055.56,1458.35 L1045.35,1457.88 L1035.13,1457.39 L1024.92,1456.88 L1014.70,1456.36 L1004.49,1455.82 L994.28,1455.26 L984.06,1454.68 L973.85,1454.08 L963.64,1453.46 L953.42,1452.82 L943.21,1452.15 L932.99,1451.46 L922.78,1450.75 L912.57,1450.01 L902.35,1449.25 L892.14,1448.46 L881.93,1447.64 L871.71,1446.79 L861.50,1445.91 L851.28,1445.00 L841.07,1444.06 L830.86,1443.09 L820.64,1442.07 L810.43,1441.02 L800.22,1439.94 L790.00,1438.81 L779.79,1437.65 L769.57,1436.44 L759.36,1435.18 L749.15,1433.88 L738.93,1432.54 L728.72,1431.14 L718.51,1429.70 L708.29,1428.20 L698.08,1426.64 L687.86,1425.03 L677.65,1423.37 L667.44,1421.64 L657.22,1419.85 L647.01,1417.99 L636.80,1416.07 L626.58,1414.08 L616.37,1412.01 L606.15,1409.88 L595.94,1407.67 L585.73,1405.38 L575.51,1403.02 L565.30,1400.57 L555.09,1398.03 L544.87,1395.35 L534.66,1392.56 L524.44,1389.68 L514.23,1386.72 L504.02,1383.68 L493.80,1380.55 L483.59,1377.35 L473.38,1374.06 L463.16,1370.69 L452.95,1367.25 L442.73,1363.72 L432.52,1360.10 L422.31,1356.41 L412.09,1352.64 L401.88,1348.78 L391.67,1344.84 L381.45,1340.82 L371.24,1336.72 L361.02,1332.54 L350.81,1328.27 L340.60,1323.93 L330.38,1319.50 L320.17,1314.99 L309.96,1310.40 L299.74,1305.73 L289.53,1300.98 L279.31,1296.14 L274.21,1291.23Z" fill="#fa7c17" fill-opacity="0.5" stroke="#fa7c17" stroke-opacity="0.5" stroke-width="2.78" stroke-linejoin="round"/><path d="M269.10,1280.83 L291.94,1292.26 L314.78,1303.37 L337.61,1314.09 L360.45,1324.39 L383.29,1334.22 L406.12,1343.58 L428.96,1352.44 L451.80,1360.80 L474.64,1368.66 L497.48,1376.04 L520.31,1382.94 L543.15,1389.38 L565.99,1395.39 L588.83,1400.97 L611.66,1406.16 L634.50,1410.98 L657.34,1415.45 L680.17,1419.58 L703.01,1423.41 L725.85,1426.96 L748.69,1430.24 L771.52,1433.28 L794.36,1436.09 L817.20,1438.69 L840.04,1441.09 L862.88,1443.32 L885.71,1445.38 L908.55,1447.29 L931.39,1449.06 L954.23,1450.69 L977.06,1452.21 L999.90,1453.62 L1022.74,1454.93 L1045.57,1456.15 L1068.41,1457.27 L1091.25,1458.32 L1114.09,1459.30 L1136.92,1460.21 L1159.76,1461.05 L1182.60,1461.84 L1205.44,1462.58 L1228.28,1463.26 L1251.11,1463.90 L1273.95,1464.50 L1296.79,1465.06 L1319.62,1465.58 L1342.46,1466.07 L1365.30,1466.53 L1388.14,1466.95 L1410.97,1467.36 L1433.81,1467.73 L1456.65,1468.09 L1479.49,1468.42 L1502.32,1468.73 L1525.16,1469.02 L1548.00,1469.30 L1570.84,1469.56 L1593.67,1469.80 L1616.51,1470.04 L1639.35,1470.25 L1662.19,1470.46 L1685.03,1470.65 L1707.86,1470.83 L1730.70,1471.01 L1753.54,1471.17 L1776.38,1471.32 L1799.21,1471.47 L1822.05,1471.61 L1844.89,1471.74 L1867.72,1471.86 L1890.56,1471.98 L1913.40,1472.09 L1936.24,1472.19 L1959.07,1472.29 L1981.91,1472.39 L2004.75,1472.48 L2027.59,1472.56 L2050.42,1472.65 L2073.26,1472.72 L2096.10,1472.80 L2118.94,1472.87 L2141.78,1472.93 L2164.61,1473.00 L2187.45,1473.06 L2210.29,1473.11 L2233.12,1473.17 L2255.96,1473.22 L2278.80,1473.27 L2301.64,1473.32" fill="none" stroke="#fa7c17" stroke-width="4.17" stroke-linecap="round" stroke-linejoin="round"/></g><rect x="1963.4" y="1126.62" width="77.2" height="26.9" fill="#fa7c17" fill-opacity="0.3" stroke="#fa7c17" stroke-opacity="0.3" stroke-width="2.78"/><rect x="1963.4" y="1183.62" width="77.2" height="26.9" fill="#fa7c17" fill-opacity="0.5" stroke="#fa7c17" stroke-opacity="0.5" stroke-width="2.78"/><path d="M1963.0,1254.12H2039.8" stroke="#fa7c17" stroke-width="4.17" stroke-linecap="round"/><text transform="matrix(0.42225 0 0 0.43099 2072.10 1154.49)" font-size="100" fill="#262626">94% HDI</text><text transform="matrix(0.42171 0 0 0.42817 2072.31 1211.69)" font-size="100" fill="#262626">50% HDI</text><text transform="matrix(0.44511 0 0 0.40642 2071.11 1267.69)" font-size="100" fill="#262626">posterior mean</text><text transform="matrix(0.49867 0 0 0.48028 1141.81 1071.14)" font-size="100" fill="#262626">Customer 10</text><text transform="matrix(0 -0.48342 0.42353 0 49.91 1449.26)" font-size="100" fill="#262626">probability alive</text><text transform="matrix(0.42781 0 0 0.42676 72.59 1489.34)" font-size="100" fill="#262626">0.00</text><text transform="matrix(0.42895 0 0 0.42676 72.58 1392.87)" font-size="100" fill="#262626">0.25</text><text transform="matrix(0.42781 0 0 0.42676 72.59 1296.39)" font-size="100" fill="#262626">0.50</text><text transform="matrix(0.42895 0 0 0.42676 72.58 1199.92)" font-size="100" fill="#262626">0.75</text><text transform="matrix(0.43052 0 0 0.42676 72.07 1103.44)" font-size="100" fill="#262626">1.00</text></g>
<g><rect x="167.0" y="1565.83" width="2236.0" height="383.7" fill="#eeeeee"/><path d="M269.10,1565.83V1949.53M725.85,1565.83V1949.53M1182.60,1565.83V1949.53M1639.35,1565.83V1949.53M2096.10,1565.83V1949.53M167.0,1854.65H2403.0M167.0,1758.18H2403.0M167.0,1661.70H2403.0" stroke="#ffffff" stroke-width="2.2" fill="none"/><g clip-path="url(#c3)"><path d="M274.21,1664.47 L279.31,1667.16 L289.53,1669.85 L299.74,1672.52 L309.96,1675.18 L320.17,1677.83 L330.38,1680.47 L340.60,1683.11 L350.81,1685.73 L361.02,1688.35 L371.24,1690.95 L381.45,1693.55 L391.67,1696.13 L401.88,1698.71 L412.09,1701.28 L422.31,1703.83 L432.52,1706.38 L442.73,1708.92 L452.95,1711.45 L463.16,1713.97 L473.38,1716.47 L483.59,1718.97 L493.80,1721.46 L504.02,1723.95 L514.23,1726.42 L524.44,1728.88 L534.66,1731.33 L544.87,1733.77 L555.09,1736.29 L565.30,1738.76 L575.51,1741.23 L585.73,1743.68 L595.94,1746.11 L606.15,1748.53 L616.37,1750.94 L626.58,1753.33 L636.80,1755.70 L647.01,1758.06 L657.22,1760.40 L667.44,1762.72 L677.65,1765.03 L687.86,1767.32 L698.08,1769.59 L708.29,1771.84 L718.51,1774.07 L728.72,1776.28 L738.93,1778.47 L749.15,1780.64 L759.36,1782.79 L769.57,1784.92 L779.79,1787.03 L790.00,1789.12 L800.22,1791.19 L810.43,1793.23 L820.64,1795.26 L830.86,1797.26 L841.07,1799.24 L851.28,1801.20 L861.50,1803.14 L871.71,1805.06 L881.93,1806.95 L892.14,1808.83 L902.35,1810.68 L912.57,1812.51 L922.78,1814.32 L932.99,1816.11 L943.21,1817.87 L953.42,1819.62 L963.64,1821.34 L973.85,1823.04 L984.06,1824.72 L994.28,1826.38 L1004.49,1828.02 L1014.70,1829.64 L1024.92,1831.23 L1035.13,1832.81 L1045.35,1834.36 L1055.56,1835.90 L1065.77,1837.41 L1075.99,1838.91 L1086.20,1840.38 L1096.41,1841.84 L1106.63,1843.27 L1116.84,1844.69 L1127.06,1846.09 L1137.27,1847.47 L1147.48,1848.83 L1157.70,1850.17 L1167.91,1851.49 L1178.12,1852.79 L1188.34,1854.08 L1198.55,1855.35 L1208.77,1856.60 L1218.98,1857.83 L1229.19,1859.05 L1239.41,1860.24 L1249.62,1861.43 L1259.83,1862.59 L1270.05,1863.74 L1280.26,1864.87 L1290.48,1865.99 L1300.69,1867.09 L1310.90,1868.17 L1321.12,1869.24 L1331.33,1870.30 L1341.54,1871.33 L1351.76,1872.36 L1361.97,1873.37 L1372.19,1874.36 L1382.40,1875.34 L1392.61,1876.31 L1402.83,1877.26 L1413.04,1878.20 L1423.25,1879.12 L1433.47,1880.04 L1443.68,1880.94 L1453.90,1881.82 L1464.11,1882.69 L1474.32,1883.55 L1484.54,1884.40 L1494.75,1885.24 L1504.96,1886.06 L1515.18,1886.87 L1525.39,1887.67 L1535.61,1888.46 L1545.82,1889.24 L1556.03,1890.00 L1566.25,1890.76 L1576.46,1891.50 L1586.67,1892.24 L1596.89,1892.96 L1607.10,1893.67 L1617.32,1894.37 L1627.53,1895.07 L1637.74,1895.75 L1647.96,1896.42 L1658.17,1897.08 L1668.38,1897.74 L1678.60,1898.38 L1688.81,1899.01 L1699.03,1899.64 L1709.24,1900.26 L1719.45,1900.86 L1729.67,1901.46 L1739.88,1902.05 L1750.09,1902.64 L1760.31,1903.21 L1770.52,1903.78 L1780.74,1904.33 L1790.95,1904.88 L1801.16,1905.43 L1811.38,1905.96 L1821.59,1906.49 L1831.80,1907.01 L1842.02,1907.52 L1852.23,1908.03 L1862.45,1908.52 L1872.66,1909.01 L1882.87,1909.50 L1893.09,1909.98 L1903.30,1910.45 L1913.51,1910.91 L1923.73,1911.37 L1933.94,1911.82 L1944.16,1912.27 L1954.37,1912.71 L1964.58,1913.14 L1974.80,1913.57 L1985.01,1913.99 L1995.22,1914.40 L2005.44,1914.81 L2015.65,1915.22 L2025.87,1915.62 L2036.08,1916.02 L2046.29,1916.41 L2056.51,1916.80 L2066.72,1917.18 L2076.93,1917.56 L2087.15,1917.93 L2097.36,1918.30 L2107.58,1918.66 L2117.79,1919.02 L2128.00,1919.37 L2138.22,1919.71 L2148.43,1920.05 L2158.64,1920.38 L2168.86,1920.71 L2179.07,1921.04 L2189.29,1921.35 L2199.50,1921.66 L2209.71,1921.97 L2219.93,1922.27 L2230.14,1922.57 L2240.35,1922.86 L2250.57,1923.14 L2260.78,1923.42 L2271.00,1923.69 L2281.21,1923.96 L2291.42,1924.22 L2301.64,1924.48 L2301.64,1932.47 L2291.42,1932.29 L2281.21,1932.10 L2271.00,1931.92 L2260.78,1931.72 L2250.57,1931.53 L2240.35,1931.33 L2230.14,1931.13 L2219.93,1930.92 L2209.71,1930.71 L2199.50,1930.49 L2189.29,1930.27 L2179.07,1930.04 L2168.86,1929.82 L2158.64,1929.58 L2148.43,1929.35 L2138.22,1929.11 L2128.00,1928.86 L2117.79,1928.61 L2107.58,1928.36 L2097.36,1928.10 L2087.15,1927.84 L2076.93,1927.57 L2066.72,1927.30 L2056.51,1927.03 L2046.29,1926.75 L2036.08,1926.47 L2025.87,1926.18 L2015.65,1925.90 L2005.44,1925.61 L1995.22,1925.32 L1985.01,1925.02 L1974.80,1924.72 L1964.58,1924.41 L1954.37,1924.10 L1944.16,1923.79 L1933.94,1923.47 L1923.73,1923.14 L1913.51,1922.81 L1903.30,1922.48 L1893.09,1922.14 L1882.87,1921.79 L1872.66,1921.44 L1862.45,1921.09 L1852.23,1920.73 L1842.02,1920.36 L1831.80,1919.99 L1821.59,1919.62 L1811.38,1919.23 L1801.16,1918.85 L1790.95,1918.45 L1780.74,1918.05 L1770.52,1917.65 L1760.31,1917.23 L1750.09,1916.82 L1739.88,1916.39 L1729.67,1915.96 L1719.45,1915.52 L1709.24,1915.08 L1699.03,1914.62 L1688.81,1914.17 L1678.60,1913.70 L1668.38,1913.23 L1658.17,1912.75 L1647.96,1912.26 L1637.74,1911.76 L1627.53,1911.26 L1617.32,1910.75 L1607.10,1910.23 L1596.89,1909.70 L1586.67,1909.16 L1576.46,1908.62 L1566.25,1908.06 L1556.03,1907.50 L1545.82,1906.93 L1535.61,1906.35 L1525.39,1905.76 L1515.18,1905.16 L1504.96,1904.55 L1494.75,1903.93 L1484.54,1903.31 L1474.32,1902.67 L1464.11,1902.02 L1453.90,1901.36 L1443.68,1900.69 L1433.47,1900.01 L1423.25,1899.31 L1413.04,1898.61 L1402.83,1897.90 L1392.61,1897.17 L1382.40,1896.43 L1372.19,1895.68 L1361.97,1894.92 L1351.76,1894.14 L1341.54,1893.35 L1331.33,1892.55 L1321.12,1891.74 L1310.90,1890.91 L1300.69,1890.07 L1290.48,1889.21 L1280.26,1888.34 L1270.05,1887.46 L1259.83,1886.56 L1249.62,1885.65 L1239.41,1884.72 L1229.19,1883.77 L1218.98,1882.81 L1208.77,1881.84 L1198.55,1880.85 L1188.34,1879.84 L1178.12,1878.81 L1167.91,1877.77 L1157.70,1876.71 L1147.48,1875.63 L1137.27,1874.54 L1127.06,1873.43 L1116.84,1872.30 L1106.63,1871.15 L1096.41,1869.98 L1086.20,1868.79 L1075.99,1867.58 L1065.77,1866.36 L1055.56,1865.11 L1045.35,1863.84 L1035.13,1862.55 L1024.92,1861.24 L1014.70,1859.91 L1004.49,1858.56 L994.28,1857.19 L984.06,1855.79 L973.85,1854.37 L963.64,1852.93 L953.42,1851.47 L943.21,1849.98 L932.99,1848.47 L922.78,1846.93 L912.57,1845.37 L902.35,1843.79 L892.14,1842.18 L881.93,1840.55 L871.71,1838.89 L861.50,1837.20 L851.28,1835.49 L841.07,1833.76 L830.86,1831.99 L820.64,1830.21 L810.43,1828.39 L800.22,1826.55 L790.00,1824.68 L779.79,1822.78 L769.57,1820.86 L759.36,1818.91 L749.15,1816.93 L738.93,1814.92 L728.72,1812.88 L718.51,1810.82 L708.29,1808.73 L698.08,1806.61 L687.86,1804.46 L677.65,1802.29 L667.44,1800.09 L657.22,1797.85 L647.01,1795.59 L636.80,1793.31 L626.58,1790.99 L616.37,1788.65 L606.15,1786.28 L595.94,1783.88 L585.73,1781.46 L575.51,1779.00 L565.30,1776.53 L555.09,1774.02 L544.87,1771.46 L534.66,1768.94 L524.44,1766.40 L514.23,1763.84 L504.02,1761.26 L493.80,1758.65 L483.59,1756.02 L473.38,1753.37 L463.16,1750.70 L452.95,1748.00 L442.73,1745.28 L432.52,1742.53 L422.31,1739.77 L412.09,1736.98 L401.88,1734.17 L391.67,1731.33 L381.45,1728.47 L371.24,1725.59 L361.02,1722.69 L350.81,1719.76 L340.60,1716.81 L330.38,1713.84 L320.17,1710.84 L309.96,1707.82 L299.74,1704.78 L289.53,1701.72 L279.31,1698.63 L274.21,1695.52Z" fill="#fa7c17" fill-opacity="0.3" stroke="#fa7c17" stroke-opacity="0.3" stroke-width="2.78" stroke-linejoin="round"/><path d="M274.21,1673.93 L279.31,1676.76 L289.53,1679.59 L299.74,1682.39 L309.96,1685.19 L320.17,1687.97 L330.38,1690.73 L340.60,1693.49 L350.81,1696.23 L361.02,1698.95 L371.24,1701.66 L381.45,1704.36 L391.67,1707.04 L401.88,1709.71 L412.09,1712.37 L422.31,1715.01 L432.52,1717.64 L442.73,1720.25 L452.95,1722.85 L463.16,1725.44 L473.38,1728.01 L483.59,1730.57 L493.80,1733.12 L504.02,1735.65 L514.23,1738.17 L524.44,1740.67 L534.66,1743.16 L544.87,1745.64 L555.09,1748.18 L565.30,1750.68 L575.51,1753.16 L585.73,1755.62 L595.94,1758.06 L606.15,1760.48 L616.37,1762.89 L626.58,1765.28 L636.80,1767.64 L647.01,1769.99 L657.22,1772.31 L667.44,1774.62 L677.65,1776.90 L687.86,1779.16 L698.08,1781.40 L708.29,1783.62 L718.51,1785.81 L728.72,1787.98 L738.93,1790.13 L749.15,1792.26 L759.36,1794.36 L769.57,1796.45 L779.79,1798.50 L790.00,1800.54 L800.22,1802.55 L810.43,1804.53 L820.64,1806.50 L830.86,1808.44 L841.07,1810.36 L851.28,1812.25 L861.50,1814.12 L871.71,1815.97 L881.93,1817.79 L892.14,1819.59 L902.35,1821.37 L912.57,1823.13 L922.78,1824.86 L932.99,1826.57 L943.21,1828.26 L953.42,1829.92 L963.64,1831.56 L973.85,1833.18 L984.06,1834.78 L994.28,1836.36 L1004.49,1837.91 L1014.70,1839.45 L1024.92,1840.96 L1035.13,1842.45 L1045.35,1843.92 L1055.56,1845.37 L1065.77,1846.80 L1075.99,1848.21 L1086.20,1849.60 L1096.41,1850.97 L1106.63,1852.32 L1116.84,1853.65 L1127.06,1854.96 L1137.27,1856.26 L1147.48,1857.53 L1157.70,1858.79 L1167.91,1860.02 L1178.12,1861.24 L1188.34,1862.44 L1198.55,1863.63 L1208.77,1864.79 L1218.98,1865.94 L1229.19,1867.07 L1239.41,1868.19 L1249.62,1869.29 L1259.83,1870.37 L1270.05,1871.44 L1280.26,1872.49 L1290.48,1873.52 L1300.69,1874.54 L1310.90,1875.55 L1321.12,1876.54 L1331.33,1877.51 L1341.54,1878.47 L1351.76,1879.42 L1361.97,1880.35 L1372.19,1881.27 L1382.40,1882.18 L1392.61,1883.07 L1402.83,1883.94 L1413.04,1884.81 L1423.25,1885.66 L1433.47,1886.50 L1443.68,1887.33 L1453.90,1888.14 L1464.11,1888.94 L1474.32,1889.73 L1484.54,1890.51 L1494.75,1891.28 L1504.96,1892.03 L1515.18,1892.78 L1525.39,1893.51 L1535.61,1894.23 L1545.82,1894.95 L1556.03,1895.65 L1566.25,1896.34 L1576.46,1897.02 L1586.67,1897.69 L1596.89,1898.35 L1607.10,1899.00 L1617.32,1899.64 L1627.53,1900.27 L1637.74,1900.90 L1647.96,1901.51 L1658.17,1902.11 L1668.38,1902.71 L1678.60,1903.30 L1688.81,1903.88 L1699.03,1904.45 L1709.24,1905.01 L1719.45,1905.56 L1729.67,1906.11 L1739.88,1906.64 L1750.09,1907.17 L1760.31,1907.70 L1770.52,1908.21 L1780.74,1908.72 L1790.95,1909.22 L1801.16,1909.71 L1811.38,1910.20 L1821.59,1910.67 L1831.80,1911.15 L1842.02,1911.61 L1852.23,1912.07 L1862.45,1912.52 L1872.66,1912.97 L1882.87,1913.41 L1893.09,1913.84 L1903.30,1914.27 L1913.51,1914.69 L1923.73,1915.10 L1933.94,1915.51 L1944.16,1915.92 L1954.37,1916.32 L1964.58,1916.71 L1974.80,1917.09 L1985.01,1917.48 L1995.22,1917.85 L2005.44,1918.22 L2015.65,1918.59 L2025.87,1918.95 L2036.08,1919.31 L2046.29,1919.67 L2056.51,1920.02 L2066.72,1920.37 L2076.93,1920.71 L2087.15,1921.05 L2097.36,1921.38 L2107.58,1921.71 L2117.79,1922.03 L2128.00,1922.34 L2138.22,1922.66 L2148.43,1922.96 L2158.64,1923.26 L2168.86,1923.56 L2179.07,1923.85 L2189.29,1924.14 L2199.50,1924.42 L2209.71,1924.70 L2219.93,1924.97 L2230.14,1925.24 L2240.35,1925.50 L2250.57,1925.75 L2260.78,1926.00 L2271.00,1926.25 L2281.21,1926.49 L2291.42,1926.73 L2301.64,1926.96 L2301.64,1929.80 L2291.42,1929.60 L2281.21,1929.39 L2271.00,1929.18 L2260.78,1928.96 L2250.57,1928.74 L2240.35,1928.51 L2230.14,1928.28 L2219.93,1928.05 L2209.71,1927.81 L2199.50,1927.56 L2189.29,1927.31 L2179.07,1927.06 L2168.86,1926.80 L2158.64,1926.54 L2148.43,1926.27 L2138.22,1926.00 L2128.00,1925.73 L2117.79,1925.45 L2107.58,1925.16 L2097.36,1924.87 L2087.15,1924.58 L2076.93,1924.28 L2066.72,1923.98 L2056.51,1923.67 L2046.29,1923.36 L2036.08,1923.04 L2025.87,1922.72 L2015.65,1922.40 L2005.44,1922.07 L1995.22,1921.74 L1985.01,1921.41 L1974.80,1921.07 L1964.58,1920.73 L1954.37,1920.38 L1944.16,1920.03 L1933.94,1919.67 L1923.73,1919.30 L1913.51,1918.94 L1903.30,1918.56 L1893.09,1918.18 L1882.87,1917.80 L1872.66,1917.40 L1862.45,1917.01 L1852.23,1916.61 L1842.02,1916.20 L1831.80,1915.78 L1821.59,1915.36 L1811.38,1914.94 L1801.16,1914.50 L1790.95,1914.06 L1780.74,1913.62 L1770.52,1913.17 L1760.31,1912.71 L1750.09,1912.24 L1739.88,1911.77 L1729.67,1911.29 L1719.45,1910.80 L1709.24,1910.30 L1699.03,1909.80 L1688.81,1909.29 L1678.60,1908.78 L1668.38,1908.25 L1658.17,1907.72 L1647.96,1907.18 L1637.74,1906.63 L1627.53,1906.07 L1617.32,1905.50 L1607.10,1904.93 L1596.89,1904.34 L1586.67,1903.75 L1576.46,1903.15 L1566.25,1902.53 L1556.03,1901.91 L1545.82,1901.28 L1535.61,1900.64 L1525.39,1899.99 L1515.18,1899.33 L1504.96,1898.66 L1494.75,1897.98 L1484.54,1897.29 L1474.32,1896.58 L1464.11,1895.87 L1453.90,1895.15 L1443.68,1894.41 L1433.47,1893.66 L1423.25,1892.90 L1413.04,1892.13 L1402.83,1891.35 L1392.61,1890.55 L1382.40,1889.74 L1372.19,1888.92 L1361.97,1888.09 L1351.76,1887.24 L1341.54,1886.38 L1331.33,1885.51 L1321.12,1884.62 L1310.90,1883.72 L1300.69,1882.80 L1290.48,1881.87 L1280.26,1880.92 L1270.05,1879.96 L1259.83,1878.99 L1249.62,1878.00 L1239.41,1876.99 L1229.19,1875.97 L1218.98,1874.93 L1208.77,1873.87 L1198.55,1872.80 L1188.34,1871.71 L1178.12,1870.61 L1167.91,1869.48 L1157.70,1868.34 L1147.48,1867.18 L1137.27,1866.01 L1127.06,1864.81 L1116.84,1863.60 L1106.63,1862.37 L1096.41,1861.11 L1086.20,1859.84 L1075.99,1858.55 L1065.77,1857.24 L1055.56,1855.91 L1045.35,1854.56 L1035.13,1853.19 L1024.92,1851.79 L1014.70,1850.38 L1004.49,1848.94 L994.28,1847.49 L984.06,1846.01 L973.85,1844.51 L963.64,1842.98 L953.42,1841.43 L943.21,1839.87 L932.99,1838.27 L922.78,1836.66 L912.57,1835.02 L902.35,1833.35 L892.14,1831.67 L881.93,1829.95 L871.71,1828.22 L861.50,1826.46 L851.28,1824.67 L841.07,1822.86 L830.86,1821.03 L820.64,1819.17 L810.43,1817.29 L800.22,1815.37 L790.00,1813.44 L779.79,1811.48 L769.57,1809.49 L759.36,1807.48 L749.15,1805.44 L738.93,1803.38 L728.72,1801.29 L718.51,1799.17 L708.29,1797.03 L698.08,1794.87 L687.86,1792.68 L677.65,1790.46 L667.44,1788.22 L657.22,1785.95 L647.01,1783.66 L636.80,1781.34 L626.58,1779.00 L616.37,1776.64 L606.15,1774.25 L595.94,1771.84 L585.73,1769.40 L575.51,1766.95 L565.30,1764.47 L555.09,1761.96 L544.87,1759.41 L534.66,1756.91 L524.44,1754.39 L514.23,1751.85 L504.02,1749.30 L493.80,1746.73 L483.59,1744.14 L473.38,1741.52 L463.16,1738.90 L452.95,1736.25 L442.73,1733.58 L432.52,1730.90 L422.31,1728.19 L412.09,1725.47 L401.88,1722.73 L391.67,1719.97 L381.45,1717.19 L371.24,1714.39 L361.02,1711.58 L350.81,1708.74 L340.60,1705.89 L330.38,1703.02 L320.17,1700.13 L309.96,1697.22 L299.74,1694.29 L289.53,1691.34 L279.31,1688.38 L274.21,1685.40Z" fill="#fa7c17" fill-opacity="0.5" stroke="#fa7c17" stroke-opacity="0.5" stroke-width="2.78" stroke-linejoin="round"/><path d="M269.10,1680.73 L291.94,1686.68 L314.78,1692.66 L337.61,1698.65 L360.45,1704.65 L383.29,1710.65 L406.12,1716.62 L428.96,1722.57 L451.80,1728.47 L474.64,1734.32 L497.48,1740.10 L520.31,1745.82 L543.15,1751.46 L565.99,1757.02 L588.83,1762.48 L611.66,1767.84 L634.50,1773.11 L657.34,1778.27 L680.17,1783.32 L703.01,1788.26 L725.85,1793.08 L748.69,1797.79 L771.52,1802.37 L794.36,1806.85 L817.20,1811.20 L840.04,1815.44 L862.88,1819.55 L885.71,1823.55 L908.55,1827.44 L931.39,1831.21 L954.23,1834.87 L977.06,1838.42 L999.90,1841.86 L1022.74,1845.19 L1045.57,1848.42 L1068.41,1851.54 L1091.25,1854.57 L1114.09,1857.50 L1136.92,1860.33 L1159.76,1863.07 L1182.60,1865.72 L1205.44,1868.28 L1228.28,1870.76 L1251.11,1873.16 L1273.95,1875.48 L1296.79,1877.72 L1319.62,1879.88 L1342.46,1881.98 L1365.30,1884.00 L1388.14,1885.95 L1410.97,1887.84 L1433.81,1889.67 L1456.65,1891.44 L1479.49,1893.14 L1502.32,1894.79 L1525.16,1896.39 L1548.00,1897.93 L1570.84,1899.42 L1593.67,1900.86 L1616.51,1902.26 L1639.35,1903.60 L1662.19,1904.91 L1685.03,1906.17 L1707.86,1907.39 L1730.70,1908.57 L1753.54,1909.71 L1776.38,1910.82 L1799.21,1911.89 L1822.05,1912.92 L1844.89,1913.92 L1867.72,1914.89 L1890.56,1915.83 L1913.40,1916.74 L1936.24,1917.62 L1959.07,1918.48 L1981.91,1919.30 L2004.75,1920.10 L2027.59,1920.88 L2050.42,1921.63 L2073.26,1922.36 L2096.10,1923.07 L2118.94,1923.75 L2141.78,1924.42 L2164.61,1925.07 L2187.45,1925.69 L2210.29,1926.30 L2233.12,1926.89 L2255.96,1927.46 L2278.80,1928.01 L2301.64,1928.55" fill="none" stroke="#fa7c17" stroke-width="4.17" stroke-linecap="round" stroke-linejoin="round"/></g><rect x="1963.4" y="1603.23" width="77.2" height="26.9" fill="#fa7c17" fill-opacity="0.3" stroke="#fa7c17" stroke-opacity="0.3" stroke-width="2.78"/><rect x="1963.4" y="1660.23" width="77.2" height="26.9" fill="#fa7c17" fill-opacity="0.5" stroke="#fa7c17" stroke-opacity="0.5" stroke-width="2.78"/><path d="M1963.0,1730.73H2039.8" stroke="#fa7c17" stroke-width="4.17" stroke-linecap="round"/><text transform="matrix(0.42225 0 0 0.43099 2072.10 1631.10)" font-size="100" fill="#262626">94% HDI</text><text transform="matrix(0.42171 0 0 0.42817 2072.31 1688.30)" font-size="100" fill="#262626">50% HDI</text><text transform="matrix(0.44511 0 0 0.40642 2071.11 1744.30)" font-size="100" fill="#262626">posterior mean</text><text transform="matrix(0.49867 0 0 0.48028 1141.81 1547.75)" font-size="100" fill="#262626">Customer 18</text><text transform="matrix(0 -0.48342 0.42353 0 49.91 1925.87)" font-size="100" fill="#262626">probability alive</text><text transform="matrix(0.42781 0 0 0.42676 72.59 1965.95)" font-size="100" fill="#262626">0.00</text><text transform="matrix(0.42895 0 0 0.42676 72.58 1869.48)" font-size="100" fill="#262626">0.25</text><text transform="matrix(0.42781 0 0 0.42676 72.59 1773.00)" font-size="100" fill="#262626">0.50</text><text transform="matrix(0.42895 0 0 0.42676 72.58 1676.53)" font-size="100" fill="#262626">0.75</text><text transform="matrix(0.43052 0 0 0.42676 72.07 1580.05)" font-size="100" fill="#262626">1.00</text></g>
<g><rect x="167.0" y="2042.44" width="2236.0" height="383.7" fill="#eeeeee"/><path d="M269.10,2042.44V2426.14M725.85,2042.44V2426.14M1182.60,2042.44V2426.14M1639.35,2042.44V2426.14M2096.10,2042.44V2426.14M167.0,2331.26H2403.0M167.0,2234.79H2403.0M167.0,2138.31H2403.0" stroke="#ffffff" stroke-width="2.2" fill="none"/><g clip-path="url(#c4)"><path d="M274.21,2059.92 L279.31,2072.31 L289.53,2084.48 L299.74,2096.44 L309.96,2108.17 L320.17,2119.70 L330.38,2131.00 L340.60,2142.09 L350.81,2152.97 L361.02,2163.63 L371.24,2174.07 L381.45,2184.30 L391.67,2194.31 L401.88,2204.10 L412.09,2213.68 L422.31,2223.04 L432.52,2232.19 L442.73,2241.12 L452.95,2249.83 L463.16,2258.33 L473.38,2266.61 L483.59,2274.68 L493.80,2282.53 L504.02,2290.17 L514.23,2297.58 L524.44,2304.79 L534.66,2311.77 L544.87,2318.54 L555.09,2326.07 L565.30,2333.21 L575.51,2340.02 L585.73,2346.49 L595.94,2352.62 L606.15,2358.39 L616.37,2363.82 L626.58,2368.91 L636.80,2373.65 L647.01,2378.06 L657.22,2382.15 L667.44,2385.93 L677.65,2389.42 L687.86,2392.63 L698.08,2395.57 L708.29,2398.27 L718.51,2400.74 L728.72,2402.99 L738.93,2405.04 L749.15,2406.91 L759.36,2408.62 L769.57,2410.17 L779.79,2411.58 L790.00,2412.86 L800.22,2414.03 L810.43,2415.10 L820.64,2416.07 L830.86,2416.96 L841.07,2417.77 L851.28,2418.52 L861.50,2419.20 L871.71,2419.82 L881.93,2420.39 L892.14,2420.92 L902.35,2421.40 L912.57,2421.84 L922.78,2422.25 L932.99,2422.63 L943.21,2422.98 L953.42,2423.30 L963.64,2423.60 L973.85,2423.87 L984.06,2424.13 L994.28,2424.36 L1004.49,2424.58 L1014.70,2424.79 L1024.92,2424.98 L1035.13,2425.15 L1045.35,2425.32 L1055.56,2425.47 L1065.77,2425.61 L1075.99,2425.75 L1086.20,2425.87 L1096.41,2425.98 L1106.63,2426.09 L1116.84,2426.19 L1127.06,2426.29 L1137.27,2426.37 L1147.48,2426.46 L1157.70,2426.53 L1167.91,2426.60 L1178.12,2426.67 L1188.34,2426.73 L1198.55,2426.79 L1208.77,2426.85 L1218.98,2426.90 L1229.19,2426.95 L1239.41,2426.99 L1249.62,2427.03 L1259.83,2427.07 L1270.05,2427.11 L1280.26,2427.15 L1290.48,2427.18 L1300.69,2427.21 L1310.90,2427.24 L1321.12,2427.27 L1331.33,2427.29 L1341.54,2427.32 L1351.76,2427.34 L1361.97,2427.36 L1372.19,2427.38 L1382.40,2427.40 L1392.61,2427.42 L1402.83,2427.44 L1413.04,2427.45 L1423.25,2427.47 L1433.47,2427.48 L1443.68,2427.50 L1453.90,2427.51 L1464.11,2427.52 L1474.32,2427.53 L1484.54,2427.54 L1494.75,2427.55 L1504.96,2427.56 L1515.18,2427.57 L1525.39,2427.58 L1535.61,2427.59 L1545.82,2427.59 L1556.03,2427.60 L1566.25,2427.61 L1576.46,2427.61 L1586.67,2427.62 L1596.89,2427.63 L1607.10,2427.63 L1617.32,2427.64 L1627.53,2427.64 L1637.74,2427.65 L1647.96,2427.65 L1658.17,2427.66 L1668.38,2427.66 L1678.60,2427.66 L1688.81,2427.67 L1699.03,2427.67 L1709.24,2427.67 L1719.45,2427.68 L1729.67,2427.68 L1739.88,2427.68 L1750.09,2427.68 L1760.31,2427.69 L1770.52,2427.69 L1780.74,2427.69 L1790.95,2427.69 L1801.16,2427.70 L1811.38,2427.70 L1821.59,2427.70 L1831.80,2427.70 L1842.02,2427.70 L1852.23,2427.70 L1862.45,2427.71 L1872.66,2427.71 L1882.87,2427.71 L1893.09,2427.71 L1903.30,2427.71 L1913.51,2427.71 L1923.73,2427.71 L1933.94,2427.72 L1944.16,2427.72 L1954.37,2427.72 L1964.58,2427.72 L1974.80,2427.72 L1985.01,2427.72 L1995.22,2427.72 L2005.44,2427.72 L2015.65,2427.72 L2025.87,2427.72 L2036.08,2427.72 L2046.29,2427.72 L2056.51,2427.73 L2066.72,2427.73 L2076.93,2427.73 L2087.15,2427.73 L2097.36,2427.73 L2107.58,2427.73 L2117.79,2427.73 L2128.00,2427.73 L2138.22,2427.73 L2148.43,2427.73 L2158.64,2427.73 L2168.86,2427.73 L2179.07,2427.73 L2189.29,2427.73 L2199.50,2427.73 L2209.71,2427.73 L2219.93,2427.73 L2230.14,2427.73 L2240.35,2427.73 L2250.57,2427.73 L2260.78,2427.73 L2271.00,2427.73 L2281.21,2427.73 L2291.42,2427.73 L2301.64,2427.73 L2301.64,2427.73 L2291.42,2427.73 L2281.21,2427.73 L2271.00,2427.73 L2260.78,2427.73 L2250.57,2427.73 L2240.35,2427.73 L2230.14,2427.73 L2219.93,2427.73 L2209.71,2427.73 L2199.50,2427.73 L2189.29,2427.73 L2179.07,2427.73 L2168.86,2427.73 L2158.64,2427.73 L2148.43,2427.73 L2138.22,2427.73 L2128.00,2427.73 L2117.79,2427.73 L2107.58,2427.73 L2097.36,2427.72 L2087.15,2427.72 L2076.93,2427.72 L2066.72,2427.72 L2056.51,2427.72 L2046.29,2427.72 L2036.08,2427.72 L2025.87,2427.72 L2015.65,2427.72 L2005.44,2427.72 L1995.22,2427.72 L1985.01,2427.72 L1974.80,2427.72 L1964.58,2427.72 L1954.37,2427.71 L1944.16,2427.71 L1933.94,2427.71 L1923.73,2427.71 L1913.51,2427.71 L1903.30,2427.71 L1893.09,2427.71 L1882.87,2427.71 L1872.66,2427.71 L1862.45,2427.70 L1852.23,2427.70 L1842.02,2427.70 L1831.80,2427.70 L1821.59,2427.70 L1811.38,2427.70 L1801.16,2427.69 L1790.95,2427.69 L1780.74,2427.69 L1770.52,2427.69 L1760.31,2427.69 L1750.09,2427.69 L1739.88,2427.68 L1729.67,2427.68 L1719.45,2427.68 L1709.24,2427.68 L1699.03,2427.67 L1688.81,2427.67 L1678.60,2427.67 L1668.38,2427.66 L1658.17,2427.66 L1647.96,2427.66 L1637.74,2427.65 L1627.53,2427.65 L1617.32,2427.65 L1607.10,2427.64 L1596.89,2427.64 L1586.67,2427.63 L1576.46,2427.63 L1566.25,2427.62 L1556.03,2427.62 L1545.82,2427.61 L1535.61,2427.61 L1525.39,2427.60 L1515.18,2427.60 L1504.96,2427.59 L1494.75,2427.58 L1484.54,2427.58 L1474.32,2427.57 L1464.11,2427.56 L1453.90,2427.55 L1443.68,2427.54 L1433.47,2427.53 L1423.25,2427.52 L1413.04,2427.51 L1402.83,2427.50 L1392.61,2427.49 L1382.40,2427.48 L1372.19,2427.47 L1361.97,2427.45 L1351.76,2427.44 L1341.54,2427.42 L1331.33,2427.41 L1321.12,2427.39 L1310.90,2427.37 L1300.69,2427.36 L1290.48,2427.34 L1280.26,2427.32 L1270.05,2427.29 L1259.83,2427.27 L1249.62,2427.25 L1239.41,2427.22 L1229.19,2427.19 L1218.98,2427.16 L1208.77,2427.13 L1198.55,2427.10 L1188.34,2427.06 L1178.12,2427.03 L1167.91,2426.99 L1157.70,2426.94 L1147.48,2426.90 L1137.27,2426.85 L1127.06,2426.80 L1116.84,2426.75 L1106.63,2426.69 L1096.41,2426.63 L1086.20,2426.57 L1075.99,2426.50 L1065.77,2426.42 L1055.56,2426.35 L1045.35,2426.26 L1035.13,2426.17 L1024.92,2426.08 L1014.70,2425.98 L1004.49,2425.87 L994.28,2425.75 L984.06,2425.63 L973.85,2425.50 L963.64,2425.36 L953.42,2425.20 L943.21,2425.04 L932.99,2424.87 L922.78,2424.68 L912.57,2424.48 L902.35,2424.26 L892.14,2424.03 L881.93,2423.78 L871.71,2423.51 L861.50,2423.22 L851.28,2422.91 L841.07,2422.56 L830.86,2422.20 L820.64,2421.79 L810.43,2421.36 L800.22,2420.89 L790.00,2420.38 L779.79,2419.82 L769.57,2419.20 L759.36,2418.54 L749.15,2417.80 L738.93,2416.99 L728.72,2416.09 L718.51,2415.11 L708.29,2414.03 L698.08,2412.82 L687.86,2411.49 L677.65,2410.02 L667.44,2408.38 L657.22,2406.56 L647.01,2404.54 L636.80,2402.31 L626.58,2399.83 L616.37,2397.09 L606.15,2394.07 L595.94,2390.74 L585.73,2387.08 L575.51,2383.08 L565.30,2378.71 L555.09,2373.96 L544.87,2368.71 L534.66,2363.11 L524.44,2357.21 L514.23,2351.03 L504.02,2344.55 L493.80,2337.78 L483.59,2330.71 L473.38,2323.36 L463.16,2315.71 L452.95,2307.77 L442.73,2299.53 L432.52,2291.01 L422.31,2282.19 L412.09,2273.08 L401.88,2263.68 L391.67,2253.98 L381.45,2243.99 L371.24,2233.72 L361.02,2223.14 L350.81,2212.28 L340.60,2201.12 L330.38,2189.67 L320.17,2177.93 L309.96,2165.90 L299.74,2153.57 L289.53,2140.96 L279.31,2128.05 L274.21,2114.84Z" fill="#fa7c17" fill-opacity="0.3" stroke="#fa7c17" stroke-opacity="0.3" stroke-width="2.78" stroke-linejoin="round"/><path d="M274.21,2073.38 L279.31,2086.24 L289.53,2098.86 L299.74,2111.23 L309.96,2123.36 L320.17,2135.24 L330.38,2146.87 L340.60,2158.26 L350.81,2169.40 L361.02,2180.30 L371.24,2190.95 L381.45,2201.36 L391.67,2211.52 L401.88,2221.44 L412.09,2231.11 L422.31,2240.53 L432.52,2249.71 L442.73,2258.64 L452.95,2267.33 L463.16,2275.77 L473.38,2283.97 L483.59,2291.92 L493.80,2299.62 L504.02,2307.08 L514.23,2314.30 L524.44,2321.26 L534.66,2327.99 L544.87,2334.47 L555.09,2341.39 L565.30,2347.89 L575.51,2354.02 L585.73,2359.80 L595.94,2365.21 L606.15,2370.27 L616.37,2374.98 L626.58,2379.35 L636.80,2383.40 L647.01,2387.12 L657.22,2390.55 L667.44,2393.70 L677.65,2396.58 L687.86,2399.21 L698.08,2401.61 L708.29,2403.79 L718.51,2405.78 L728.72,2407.59 L738.93,2409.24 L749.15,2410.73 L759.36,2412.09 L769.57,2413.33 L779.79,2414.45 L790.00,2415.48 L800.22,2416.41 L810.43,2417.26 L820.64,2418.04 L830.86,2418.76 L841.07,2419.40 L851.28,2420.01 L861.50,2420.55 L871.71,2421.06 L881.93,2421.52 L892.14,2421.95 L902.35,2422.34 L912.57,2422.71 L922.78,2423.04 L932.99,2423.35 L943.21,2423.65 L953.42,2423.91 L963.64,2424.16 L973.85,2424.39 L984.06,2424.60 L994.28,2424.80 L1004.49,2424.99 L1014.70,2425.16 L1024.92,2425.32 L1035.13,2425.47 L1045.35,2425.61 L1055.56,2425.74 L1065.77,2425.86 L1075.99,2425.97 L1086.20,2426.08 L1096.41,2426.18 L1106.63,2426.27 L1116.84,2426.36 L1127.06,2426.44 L1137.27,2426.51 L1147.48,2426.58 L1157.70,2426.65 L1167.91,2426.71 L1178.12,2426.77 L1188.34,2426.83 L1198.55,2426.88 L1208.77,2426.93 L1218.98,2426.97 L1229.19,2427.01 L1239.41,2427.05 L1249.62,2427.09 L1259.83,2427.13 L1270.05,2427.16 L1280.26,2427.19 L1290.48,2427.22 L1300.69,2427.25 L1310.90,2427.27 L1321.12,2427.30 L1331.33,2427.32 L1341.54,2427.34 L1351.76,2427.36 L1361.97,2427.38 L1372.19,2427.40 L1382.40,2427.42 L1392.61,2427.44 L1402.83,2427.45 L1413.04,2427.47 L1423.25,2427.48 L1433.47,2427.49 L1443.68,2427.51 L1453.90,2427.52 L1464.11,2427.53 L1474.32,2427.54 L1484.54,2427.55 L1494.75,2427.56 L1504.96,2427.57 L1515.18,2427.57 L1525.39,2427.58 L1535.61,2427.59 L1545.82,2427.60 L1556.03,2427.60 L1566.25,2427.61 L1576.46,2427.62 L1586.67,2427.62 L1596.89,2427.63 L1607.10,2427.63 L1617.32,2427.64 L1627.53,2427.64 L1637.74,2427.65 L1647.96,2427.65 L1658.17,2427.65 L1668.38,2427.66 L1678.60,2427.66 L1688.81,2427.67 L1699.03,2427.67 L1709.24,2427.67 L1719.45,2427.68 L1729.67,2427.68 L1739.88,2427.68 L1750.09,2427.68 L1760.31,2427.69 L1770.52,2427.69 L1780.74,2427.69 L1790.95,2427.69 L1801.16,2427.69 L1811.38,2427.70 L1821.59,2427.70 L1831.80,2427.70 L1842.02,2427.70 L1852.23,2427.70 L1862.45,2427.70 L1872.66,2427.71 L1882.87,2427.71 L1893.09,2427.71 L1903.30,2427.71 L1913.51,2427.71 L1923.73,2427.71 L1933.94,2427.71 L1944.16,2427.71 L1954.37,2427.72 L1964.58,2427.72 L1974.80,2427.72 L1985.01,2427.72 L1995.22,2427.72 L2005.44,2427.72 L2015.65,2427.72 L2025.87,2427.72 L2036.08,2427.72 L2046.29,2427.72 L2056.51,2427.72 L2066.72,2427.72 L2076.93,2427.73 L2087.15,2427.73 L2097.36,2427.73 L2107.58,2427.73 L2117.79,2427.73 L2128.00,2427.73 L2138.22,2427.73 L2148.43,2427.73 L2158.64,2427.73 L2168.86,2427.73 L2179.07,2427.73 L2189.29,2427.73 L2199.50,2427.73 L2209.71,2427.73 L2219.93,2427.73 L2230.14,2427.73 L2240.35,2427.73 L2250.57,2427.73 L2260.78,2427.73 L2271.00,2427.73 L2281.21,2427.73 L2291.42,2427.73 L2301.64,2427.73 L2301.64,2427.73 L2291.42,2427.73 L2281.21,2427.73 L2271.00,2427.73 L2260.78,2427.73 L2250.57,2427.73 L2240.35,2427.73 L2230.14,2427.73 L2219.93,2427.73 L2209.71,2427.73 L2199.50,2427.73 L2189.29,2427.73 L2179.07,2427.73 L2168.86,2427.73 L2158.64,2427.73 L2148.43,2427.73 L2138.22,2427.73 L2128.00,2427.73 L2117.79,2427.73 L2107.58,2427.73 L2097.36,2427.73 L2087.15,2427.73 L2076.93,2427.73 L2066.72,2427.73 L2056.51,2427.73 L2046.29,2427.73 L2036.08,2427.73 L2025.87,2427.72 L2015.65,2427.72 L2005.44,2427.72 L1995.22,2427.72 L1985.01,2427.72 L1974.80,2427.72 L1964.58,2427.72 L1954.37,2427.72 L1944.16,2427.72 L1933.94,2427.72 L1923.73,2427.72 L1913.51,2427.72 L1903.30,2427.72 L1893.09,2427.71 L1882.87,2427.71 L1872.66,2427.71 L1862.45,2427.71 L1852.23,2427.71 L1842.02,2427.71 L1831.80,2427.71 L1821.59,2427.71 L1811.38,2427.70 L1801.16,2427.70 L1790.95,2427.70 L1780.74,2427.70 L1770.52,2427.70 L1760.31,2427.69 L1750.09,2427.69 L1739.88,2427.69 L1729.67,2427.69 L1719.45,2427.69 L1709.24,2427.68 L1699.03,2427.68 L1688.81,2427.68 L1678.60,2427.68 L1668.38,2427.67 L1658.17,2427.67 L1647.96,2427.67 L1637.74,2427.66 L1627.53,2427.66 L1617.32,2427.65 L1607.10,2427.65 L1596.89,2427.65 L1586.67,2427.64 L1576.46,2427.64 L1566.25,2427.63 L1556.03,2427.63 L1545.82,2427.62 L1535.61,2427.61 L1525.39,2427.61 L1515.18,2427.60 L1504.96,2427.60 L1494.75,2427.59 L1484.54,2427.58 L1474.32,2427.57 L1464.11,2427.56 L1453.90,2427.55 L1443.68,2427.54 L1433.47,2427.53 L1423.25,2427.52 L1413.04,2427.51 L1402.83,2427.50 L1392.61,2427.49 L1382.40,2427.47 L1372.19,2427.46 L1361.97,2427.44 L1351.76,2427.43 L1341.54,2427.41 L1331.33,2427.39 L1321.12,2427.37 L1310.90,2427.35 L1300.69,2427.33 L1290.48,2427.31 L1280.26,2427.28 L1270.05,2427.26 L1259.83,2427.23 L1249.62,2427.20 L1239.41,2427.17 L1229.19,2427.14 L1218.98,2427.10 L1208.77,2427.07 L1198.55,2427.03 L1188.34,2426.98 L1178.12,2426.94 L1167.91,2426.89 L1157.70,2426.84 L1147.48,2426.78 L1137.27,2426.73 L1127.06,2426.66 L1116.84,2426.60 L1106.63,2426.53 L1096.41,2426.45 L1086.20,2426.37 L1075.99,2426.28 L1065.77,2426.19 L1055.56,2426.09 L1045.35,2425.98 L1035.13,2425.87 L1024.92,2425.75 L1014.70,2425.62 L1004.49,2425.48 L994.28,2425.33 L984.06,2425.17 L973.85,2424.99 L963.64,2424.81 L953.42,2424.61 L943.21,2424.39 L932.99,2424.15 L922.78,2423.90 L912.57,2423.63 L902.35,2423.34 L892.14,2423.02 L881.93,2422.68 L871.71,2422.31 L861.50,2421.91 L851.28,2421.47 L841.07,2420.99 L830.86,2420.48 L820.64,2419.91 L810.43,2419.30 L800.22,2418.63 L790.00,2417.89 L779.79,2417.09 L769.57,2416.21 L759.36,2415.24 L749.15,2414.17 L738.93,2413.01 L728.72,2411.72 L718.51,2410.30 L708.29,2408.74 L698.08,2407.02 L687.86,2405.13 L677.65,2403.04 L667.44,2400.75 L657.22,2398.23 L647.01,2395.48 L636.80,2392.46 L626.58,2389.16 L616.37,2385.57 L606.15,2381.66 L595.94,2377.43 L585.73,2372.87 L575.51,2367.95 L565.30,2362.68 L555.09,2357.04 L544.87,2350.95 L534.66,2344.95 L524.44,2338.68 L514.23,2332.15 L504.02,2325.36 L493.80,2318.30 L483.59,2310.98 L473.38,2303.40 L463.16,2295.56 L452.95,2287.45 L442.73,2279.08 L432.52,2270.44 L422.31,2261.55 L412.09,2252.39 L401.88,2242.97 L391.67,2233.28 L381.45,2223.33 L371.24,2213.12 L361.02,2202.65 L350.81,2191.91 L340.60,2180.91 L330.38,2169.65 L320.17,2158.12 L309.96,2146.33 L299.74,2134.28 L289.53,2121.96 L279.31,2109.39 L274.21,2096.55Z" fill="#fa7c17" fill-opacity="0.5" stroke="#fa7c17" stroke-opacity="0.5" stroke-width="2.78" stroke-linejoin="round"/><path d="M269.10,2104.34 L291.94,2120.73 L314.78,2139.58 L337.61,2160.61 L360.45,2183.34 L383.29,2207.12 L406.12,2231.21 L428.96,2254.86 L451.80,2277.41 L474.64,2298.35 L497.48,2317.34 L520.31,2334.22 L543.15,2348.96 L565.99,2361.65 L588.83,2372.47 L611.66,2381.61 L634.50,2389.27 L657.34,2395.67 L680.17,2400.99 L703.01,2405.42 L725.85,2409.08 L748.69,2412.13 L771.52,2414.65 L794.36,2416.75 L817.20,2418.49 L840.04,2419.94 L862.88,2421.15 L885.71,2422.16 L908.55,2423.00 L931.39,2423.71 L954.23,2424.30 L977.06,2424.80 L999.90,2425.23 L1022.74,2425.58 L1045.57,2425.89 L1068.41,2426.14 L1091.25,2426.36 L1114.09,2426.55 L1136.92,2426.71 L1159.76,2426.84 L1182.60,2426.96 L1205.44,2427.06 L1228.28,2427.15 L1251.11,2427.22 L1273.95,2427.29 L1296.79,2427.34 L1319.62,2427.39 L1342.46,2427.43 L1365.30,2427.47 L1388.14,2427.50 L1410.97,2427.53 L1433.81,2427.55 L1456.65,2427.58 L1479.49,2427.59 L1502.32,2427.61 L1525.16,2427.62 L1548.00,2427.64 L1570.84,2427.65 L1593.67,2427.66 L1616.51,2427.67 L1639.35,2427.67 L1662.19,2427.68 L1685.03,2427.69 L1707.86,2427.69 L1730.70,2427.70 L1753.54,2427.70 L1776.38,2427.71 L1799.21,2427.71 L1822.05,2427.71 L1844.89,2427.71 L1867.72,2427.72 L1890.56,2427.72 L1913.40,2427.72 L1936.24,2427.72 L1959.07,2427.72 L1981.91,2427.73 L2004.75,2427.73 L2027.59,2427.73 L2050.42,2427.73 L2073.26,2427.73 L2096.10,2427.73 L2118.94,2427.73 L2141.78,2427.73 L2164.61,2427.73 L2187.45,2427.73 L2210.29,2427.73 L2233.12,2427.73 L2255.96,2427.74 L2278.80,2427.74 L2301.64,2427.74" fill="none" stroke="#fa7c17" stroke-width="4.17" stroke-linecap="round" stroke-linejoin="round"/></g><rect x="1963.4" y="2079.84" width="77.2" height="26.9" fill="#fa7c17" fill-opacity="0.3" stroke="#fa7c17" stroke-opacity="0.3" stroke-width="2.78"/><rect x="1963.4" y="2136.84" width="77.2" height="26.9" fill="#fa7c17" fill-opacity="0.5" stroke="#fa7c17" stroke-opacity="0.5" stroke-width="2.78"/><path d="M1963.0,2207.34H2039.8" stroke="#fa7c17" stroke-width="4.17" stroke-linecap="round"/><text transform="matrix(0.42225 0 0 0.43099 2072.10 2107.71)" font-size="100" fill="#262626">94% HDI</text><text transform="matrix(0.42171 0 0 0.42817 2072.31 2164.91)" font-size="100" fill="#262626">50% HDI</text><text transform="matrix(0.44511 0 0 0.40642 2071.11 2220.91)" font-size="100" fill="#262626">posterior mean</text><text transform="matrix(0.49689 0 0 0.48028 1141.82 2024.36)" font-size="100" fill="#262626">Customer 45</text><text transform="matrix(0 -0.48342 0.42353 0 49.91 2402.48)" font-size="100" fill="#262626">probability alive</text><text transform="matrix(0.42781 0 0 0.42676 72.59 2442.56)" font-size="100" fill="#262626">0.00</text><text transform="matrix(0.42895 0 0 0.42676 72.58 2346.09)" font-size="100" fill="#262626">0.25</text><text transform="matrix(0.42781 0 0 0.42676 72.59 2249.61)" font-size="100" fill="#262626">0.50</text><text transform="matrix(0.42895 0 0 0.42676 72.58 2153.14)" font-size="100" fill="#262626">0.75</text><text transform="matrix(0.43052 0 0 0.42676 72.07 2056.66)" font-size="100" fill="#262626">1.00</text></g>
<g><rect x="167.0" y="2519.05" width="2236.0" height="383.7" fill="#eeeeee"/><path d="M269.10,2519.05V2902.75M725.85,2519.05V2902.75M1182.60,2519.05V2902.75M1639.35,2519.05V2902.75M2096.10,2519.05V2902.75M167.0,2807.88H2403.0M167.0,2711.40H2403.0M167.0,2614.93H2403.0" stroke="#ffffff" stroke-width="2.2" fill="none"/><g clip-path="url(#c5)"><path d="M274.21,2488.52 L279.31,2503.86 L289.53,2518.92 L299.74,2533.68 L309.96,2548.16 L320.17,2562.35 L330.38,2576.26 L340.60,2589.87 L350.81,2603.20 L361.02,2616.24 L371.24,2629.00 L381.45,2641.46 L391.67,2653.64 L401.88,2665.53 L412.09,2677.14 L422.31,2688.45 L432.52,2699.48 L442.73,2710.22 L452.95,2720.68 L463.16,2730.85 L473.38,2740.72 L483.59,2750.32 L493.80,2759.62 L504.02,2768.64 L514.23,2777.37 L524.44,2785.81 L534.66,2793.96 L544.87,2801.83 L555.09,2811.03 L565.30,2819.75 L575.51,2828.00 L585.73,2835.76 L595.94,2843.00 L606.15,2849.73 L616.37,2855.93 L626.58,2861.61 L636.80,2866.78 L647.01,2871.43 L657.22,2875.61 L667.44,2879.31 L677.65,2882.60 L687.86,2885.48 L698.08,2887.99 L708.29,2890.17 L718.51,2892.04 L728.72,2893.65 L738.93,2895.03 L749.15,2896.20 L759.36,2897.21 L769.57,2898.06 L779.79,2898.78 L790.00,2899.40 L800.22,2899.93 L810.43,2900.39 L820.64,2900.78 L830.86,2901.12 L841.07,2901.42 L851.28,2901.68 L861.50,2901.91 L871.71,2902.12 L881.93,2902.30 L892.14,2902.47 L902.35,2902.62 L912.57,2902.75 L922.78,2902.87 L932.99,2902.98 L943.21,2903.09 L953.42,2903.18 L963.64,2903.27 L973.85,2903.35 L984.06,2903.42 L994.28,2903.49 L1004.49,2903.55 L1014.70,2903.61 L1024.92,2903.66 L1035.13,2903.71 L1045.35,2903.75 L1055.56,2903.80 L1065.77,2903.84 L1075.99,2903.87 L1086.20,2903.91 L1096.41,2903.94 L1106.63,2903.96 L1116.84,2903.99 L1127.06,2904.02 L1137.27,2904.04 L1147.48,2904.06 L1157.70,2904.08 L1167.91,2904.10 L1178.12,2904.12 L1188.34,2904.13 L1198.55,2904.15 L1208.77,2904.16 L1218.98,2904.17 L1229.19,2904.18 L1239.41,2904.19 L1249.62,2904.20 L1259.83,2904.21 L1270.05,2904.22 L1280.26,2904.23 L1290.48,2904.24 L1300.69,2904.25 L1310.90,2904.25 L1321.12,2904.26 L1331.33,2904.26 L1341.54,2904.27 L1351.76,2904.27 L1361.97,2904.28 L1372.19,2904.28 L1382.40,2904.29 L1392.61,2904.29 L1402.83,2904.30 L1413.04,2904.30 L1423.25,2904.30 L1433.47,2904.30 L1443.68,2904.31 L1453.90,2904.31 L1464.11,2904.31 L1474.32,2904.31 L1484.54,2904.32 L1494.75,2904.32 L1504.96,2904.32 L1515.18,2904.32 L1525.39,2904.32 L1535.61,2904.33 L1545.82,2904.33 L1556.03,2904.33 L1566.25,2904.33 L1576.46,2904.33 L1586.67,2904.33 L1596.89,2904.33 L1607.10,2904.33 L1617.32,2904.33 L1627.53,2904.34 L1637.74,2904.34 L1647.96,2904.34 L1658.17,2904.34 L1668.38,2904.34 L1678.60,2904.34 L1688.81,2904.34 L1699.03,2904.34 L1709.24,2904.34 L1719.45,2904.34 L1729.67,2904.34 L1739.88,2904.34 L1750.09,2904.34 L1760.31,2904.34 L1770.52,2904.34 L1780.74,2904.34 L1790.95,2904.34 L1801.16,2904.34 L1811.38,2904.34 L1821.59,2904.34 L1831.80,2904.34 L1842.02,2904.35 L1852.23,2904.35 L1862.45,2904.35 L1872.66,2904.35 L1882.87,2904.35 L1893.09,2904.35 L1903.30,2904.35 L1913.51,2904.35 L1923.73,2904.35 L1933.94,2904.35 L1944.16,2904.35 L1954.37,2904.35 L1964.58,2904.35 L1974.80,2904.35 L1985.01,2904.35 L1995.22,2904.35 L2005.44,2904.35 L2015.65,2904.35 L2025.87,2904.35 L2036.08,2904.35 L2046.29,2904.35 L2056.51,2904.35 L2066.72,2904.35 L2076.93,2904.35 L2087.15,2904.35 L2097.36,2904.35 L2107.58,2904.35 L2117.79,2904.35 L2128.00,2904.35 L2138.22,2904.35 L2148.43,2904.35 L2158.64,2904.35 L2168.86,2904.35 L2179.07,2904.35 L2189.29,2904.35 L2199.50,2904.35 L2209.71,2904.35 L2219.93,2904.35 L2230.14,2904.35 L2240.35,2904.35 L2250.57,2904.35 L2260.78,2904.35 L2271.00,2904.35 L2281.21,2904.35 L2291.42,2904.35 L2301.64,2904.35 L2301.64,2904.34 L2291.42,2904.34 L2281.21,2904.34 L2271.00,2904.34 L2260.78,2904.34 L2250.57,2904.34 L2240.35,2904.34 L2230.14,2904.34 L2219.93,2904.34 L2209.71,2904.34 L2199.50,2904.34 L2189.29,2904.34 L2179.07,2904.34 L2168.86,2904.34 L2158.64,2904.34 L2148.43,2904.34 L2138.22,2904.34 L2128.00,2904.34 L2117.79,2904.34 L2107.58,2904.34 L2097.36,2904.34 L2087.15,2904.34 L2076.93,2904.34 L2066.72,2904.34 L2056.51,2904.34 L2046.29,2904.34 L2036.08,2904.34 L2025.87,2904.34 L2015.65,2904.34 L2005.44,2904.34 L1995.22,2904.34 L1985.01,2904.34 L1974.80,2904.34 L1964.58,2904.34 L1954.37,2904.34 L1944.16,2904.34 L1933.94,2904.34 L1923.73,2904.34 L1913.51,2904.33 L1903.30,2904.33 L1893.09,2904.33 L1882.87,2904.33 L1872.66,2904.33 L1862.45,2904.33 L1852.23,2904.33 L1842.02,2904.33 L1831.80,2904.33 L1821.59,2904.33 L1811.38,2904.33 L1801.16,2904.33 L1790.95,2904.33 L1780.74,2904.33 L1770.52,2904.32 L1760.31,2904.32 L1750.09,2904.32 L1739.88,2904.32 L1729.67,2904.32 L1719.45,2904.32 L1709.24,2904.32 L1699.03,2904.32 L1688.81,2904.31 L1678.60,2904.31 L1668.38,2904.31 L1658.17,2904.31 L1647.96,2904.31 L1637.74,2904.31 L1627.53,2904.31 L1617.32,2904.30 L1607.10,2904.30 L1596.89,2904.30 L1586.67,2904.30 L1576.46,2904.29 L1566.25,2904.29 L1556.03,2904.29 L1545.82,2904.29 L1535.61,2904.28 L1525.39,2904.28 L1515.18,2904.28 L1504.96,2904.27 L1494.75,2904.27 L1484.54,2904.27 L1474.32,2904.26 L1464.11,2904.26 L1453.90,2904.26 L1443.68,2904.25 L1433.47,2904.25 L1423.25,2904.24 L1413.04,2904.24 L1402.83,2904.23 L1392.61,2904.23 L1382.40,2904.22 L1372.19,2904.21 L1361.97,2904.21 L1351.76,2904.20 L1341.54,2904.19 L1331.33,2904.18 L1321.12,2904.17 L1310.90,2904.17 L1300.69,2904.16 L1290.48,2904.15 L1280.26,2904.14 L1270.05,2904.12 L1259.83,2904.11 L1249.62,2904.10 L1239.41,2904.09 L1229.19,2904.07 L1218.98,2904.06 L1208.77,2904.04 L1198.55,2904.02 L1188.34,2904.00 L1178.12,2903.98 L1167.91,2903.96 L1157.70,2903.94 L1147.48,2903.92 L1137.27,2903.89 L1127.06,2903.87 L1116.84,2903.84 L1106.63,2903.81 L1096.41,2903.78 L1086.20,2903.74 L1075.99,2903.71 L1065.77,2903.67 L1055.56,2903.63 L1045.35,2903.58 L1035.13,2903.53 L1024.92,2903.48 L1014.70,2903.43 L1004.49,2903.37 L994.28,2903.31 L984.06,2903.24 L973.85,2903.17 L963.64,2903.10 L953.42,2903.02 L943.21,2902.93 L932.99,2902.84 L922.78,2902.74 L912.57,2902.63 L902.35,2902.52 L892.14,2902.40 L881.93,2902.26 L871.71,2902.12 L861.50,2901.97 L851.28,2901.81 L841.07,2901.63 L830.86,2901.44 L820.64,2901.23 L810.43,2901.00 L800.22,2900.75 L790.00,2900.48 L779.79,2900.18 L769.57,2899.85 L759.36,2899.48 L749.15,2899.05 L738.93,2898.59 L728.72,2898.04 L718.51,2897.43 L708.29,2896.71 L698.08,2895.88 L687.86,2894.92 L677.65,2893.78 L667.44,2892.46 L657.22,2890.91 L647.01,2889.09 L636.80,2886.98 L626.58,2884.52 L616.37,2881.69 L606.15,2878.42 L595.94,2874.71 L585.73,2870.50 L575.51,2865.76 L565.30,2860.50 L555.09,2854.66 L544.87,2848.17 L534.66,2841.49 L524.44,2834.44 L514.23,2827.00 L504.02,2819.18 L493.80,2810.98 L483.59,2802.40 L473.38,2793.43 L463.16,2784.09 L452.95,2774.36 L442.73,2764.25 L432.52,2753.76 L422.31,2742.89 L412.09,2731.63 L401.88,2720.00 L391.67,2707.98 L381.45,2695.58 L371.24,2682.80 L361.02,2669.64 L350.81,2656.09 L340.60,2642.17 L330.38,2627.86 L320.17,2613.17 L309.96,2598.10 L299.74,2582.65 L289.53,2566.82 L279.31,2550.60 L274.21,2534.01Z" fill="#fa7c17" fill-opacity="0.3" stroke="#fa7c17" stroke-opacity="0.3" stroke-width="2.78" stroke-linejoin="round"/><path d="M274.21,2493.82 L279.31,2510.61 L289.53,2527.06 L299.74,2543.14 L309.96,2558.87 L320.17,2574.25 L330.38,2589.26 L340.60,2603.93 L350.81,2618.23 L361.02,2632.18 L371.24,2645.77 L381.45,2659.00 L391.67,2671.88 L401.88,2684.40 L412.09,2696.57 L422.31,2708.38 L432.52,2719.83 L442.73,2730.93 L452.95,2741.67 L463.16,2752.05 L473.38,2762.08 L483.59,2771.75 L493.80,2781.06 L504.02,2790.02 L514.23,2798.62 L524.44,2806.86 L534.66,2814.75 L544.87,2822.28 L555.09,2830.47 L565.30,2838.05 L575.51,2845.06 L585.73,2851.50 L595.94,2857.36 L606.15,2862.66 L616.37,2867.42 L626.58,2871.66 L636.80,2875.41 L647.01,2878.70 L657.22,2881.59 L667.44,2884.09 L677.65,2886.27 L687.86,2888.15 L698.08,2889.77 L708.29,2891.18 L718.51,2892.40 L728.72,2893.45 L738.93,2894.38 L749.15,2895.19 L759.36,2895.91 L769.57,2896.54 L779.79,2897.11 L790.00,2897.61 L800.22,2898.07 L810.43,2898.49 L820.64,2898.87 L830.86,2899.22 L841.07,2899.54 L851.28,2899.84 L861.50,2900.12 L871.71,2900.37 L881.93,2900.61 L892.14,2900.83 L902.35,2901.04 L912.57,2901.23 L922.78,2901.41 L932.99,2901.58 L943.21,2901.74 L953.42,2901.88 L963.64,2902.02 L973.85,2902.15 L984.06,2902.27 L994.28,2902.39 L1004.49,2902.49 L1014.70,2902.59 L1024.92,2902.69 L1035.13,2902.78 L1045.35,2902.86 L1055.56,2902.94 L1065.77,2903.01 L1075.99,2903.08 L1086.20,2903.15 L1096.41,2903.21 L1106.63,2903.27 L1116.84,2903.32 L1127.06,2903.37 L1137.27,2903.42 L1147.48,2903.47 L1157.70,2903.51 L1167.91,2903.55 L1178.12,2903.59 L1188.34,2903.63 L1198.55,2903.66 L1208.77,2903.69 L1218.98,2903.72 L1229.19,2903.75 L1239.41,2903.78 L1249.62,2903.81 L1259.83,2903.83 L1270.05,2903.85 L1280.26,2903.88 L1290.48,2903.90 L1300.69,2903.92 L1310.90,2903.94 L1321.12,2903.95 L1331.33,2903.97 L1341.54,2903.99 L1351.76,2904.00 L1361.97,2904.02 L1372.19,2904.03 L1382.40,2904.05 L1392.61,2904.06 L1402.83,2904.07 L1413.04,2904.08 L1423.25,2904.09 L1433.47,2904.10 L1443.68,2904.11 L1453.90,2904.12 L1464.11,2904.13 L1474.32,2904.14 L1484.54,2904.15 L1494.75,2904.16 L1504.96,2904.16 L1515.18,2904.17 L1525.39,2904.18 L1535.61,2904.18 L1545.82,2904.19 L1556.03,2904.20 L1566.25,2904.20 L1576.46,2904.21 L1586.67,2904.21 L1596.89,2904.22 L1607.10,2904.22 L1617.32,2904.23 L1627.53,2904.23 L1637.74,2904.23 L1647.96,2904.24 L1658.17,2904.24 L1668.38,2904.25 L1678.60,2904.25 L1688.81,2904.25 L1699.03,2904.26 L1709.24,2904.26 L1719.45,2904.26 L1729.67,2904.27 L1739.88,2904.27 L1750.09,2904.27 L1760.31,2904.27 L1770.52,2904.28 L1780.74,2904.28 L1790.95,2904.28 L1801.16,2904.28 L1811.38,2904.29 L1821.59,2904.29 L1831.80,2904.29 L1842.02,2904.29 L1852.23,2904.29 L1862.45,2904.30 L1872.66,2904.30 L1882.87,2904.30 L1893.09,2904.30 L1903.30,2904.30 L1913.51,2904.30 L1923.73,2904.30 L1933.94,2904.31 L1944.16,2904.31 L1954.37,2904.31 L1964.58,2904.31 L1974.80,2904.31 L1985.01,2904.31 L1995.22,2904.31 L2005.44,2904.31 L2015.65,2904.32 L2025.87,2904.32 L2036.08,2904.32 L2046.29,2904.32 L2056.51,2904.32 L2066.72,2904.32 L2076.93,2904.32 L2087.15,2904.32 L2097.36,2904.32 L2107.58,2904.32 L2117.79,2904.32 L2128.00,2904.33 L2138.22,2904.33 L2148.43,2904.33 L2158.64,2904.33 L2168.86,2904.33 L2179.07,2904.33 L2189.29,2904.33 L2199.50,2904.33 L2209.71,2904.33 L2219.93,2904.33 L2230.14,2904.33 L2240.35,2904.33 L2250.57,2904.33 L2260.78,2904.33 L2271.00,2904.33 L2281.21,2904.33 L2291.42,2904.33 L2301.64,2904.33 L2301.64,2904.34 L2291.42,2904.34 L2281.21,2904.34 L2271.00,2904.34 L2260.78,2904.34 L2250.57,2904.34 L2240.35,2904.34 L2230.14,2904.34 L2219.93,2904.34 L2209.71,2904.34 L2199.50,2904.34 L2189.29,2904.34 L2179.07,2904.34 L2168.86,2904.34 L2158.64,2904.34 L2148.43,2904.34 L2138.22,2904.34 L2128.00,2904.34 L2117.79,2904.34 L2107.58,2904.34 L2097.36,2904.34 L2087.15,2904.34 L2076.93,2904.34 L2066.72,2904.33 L2056.51,2904.33 L2046.29,2904.33 L2036.08,2904.33 L2025.87,2904.33 L2015.65,2904.33 L2005.44,2904.33 L1995.22,2904.33 L1985.01,2904.33 L1974.80,2904.33 L1964.58,2904.33 L1954.37,2904.33 L1944.16,2904.33 L1933.94,2904.33 L1923.73,2904.33 L1913.51,2904.32 L1903.30,2904.32 L1893.09,2904.32 L1882.87,2904.32 L1872.66,2904.32 L1862.45,2904.32 L1852.23,2904.32 L1842.02,2904.32 L1831.80,2904.32 L1821.59,2904.32 L1811.38,2904.31 L1801.16,2904.31 L1790.95,2904.31 L1780.74,2904.31 L1770.52,2904.31 L1760.31,2904.31 L1750.09,2904.31 L1739.88,2904.30 L1729.67,2904.30 L1719.45,2904.30 L1709.24,2904.30 L1699.03,2904.30 L1688.81,2904.29 L1678.60,2904.29 L1668.38,2904.29 L1658.17,2904.29 L1647.96,2904.29 L1637.74,2904.28 L1627.53,2904.28 L1617.32,2904.28 L1607.10,2904.27 L1596.89,2904.27 L1586.67,2904.27 L1576.46,2904.26 L1566.25,2904.26 L1556.03,2904.26 L1545.82,2904.25 L1535.61,2904.25 L1525.39,2904.25 L1515.18,2904.24 L1504.96,2904.24 L1494.75,2904.23 L1484.54,2904.23 L1474.32,2904.22 L1464.11,2904.21 L1453.90,2904.21 L1443.68,2904.20 L1433.47,2904.20 L1423.25,2904.19 L1413.04,2904.18 L1402.83,2904.17 L1392.61,2904.16 L1382.40,2904.16 L1372.19,2904.15 L1361.97,2904.14 L1351.76,2904.13 L1341.54,2904.12 L1331.33,2904.10 L1321.12,2904.09 L1310.90,2904.08 L1300.69,2904.07 L1290.48,2904.05 L1280.26,2904.04 L1270.05,2904.02 L1259.83,2904.01 L1249.62,2903.99 L1239.41,2903.97 L1229.19,2903.95 L1218.98,2903.93 L1208.77,2903.91 L1198.55,2903.88 L1188.34,2903.86 L1178.12,2903.83 L1167.91,2903.80 L1157.70,2903.77 L1147.48,2903.74 L1137.27,2903.71 L1127.06,2903.67 L1116.84,2903.63 L1106.63,2903.59 L1096.41,2903.55 L1086.20,2903.50 L1075.99,2903.45 L1065.77,2903.40 L1055.56,2903.34 L1045.35,2903.28 L1035.13,2903.22 L1024.92,2903.15 L1014.70,2903.08 L1004.49,2903.00 L994.28,2902.92 L984.06,2902.83 L973.85,2902.74 L963.64,2902.64 L953.42,2902.53 L943.21,2902.42 L932.99,2902.29 L922.78,2902.16 L912.57,2902.02 L902.35,2901.87 L892.14,2901.70 L881.93,2901.53 L871.71,2901.34 L861.50,2901.14 L851.28,2900.92 L841.07,2900.68 L830.86,2900.42 L820.64,2900.14 L810.43,2899.84 L800.22,2899.50 L790.00,2899.13 L779.79,2898.73 L769.57,2898.27 L759.36,2897.76 L749.15,2897.18 L738.93,2896.54 L728.72,2895.80 L718.51,2894.95 L708.29,2893.98 L698.08,2892.86 L687.86,2891.56 L677.65,2890.05 L667.44,2888.30 L657.22,2886.27 L647.01,2883.93 L636.80,2881.24 L626.58,2878.15 L616.37,2874.65 L606.15,2870.67 L595.94,2866.20 L585.73,2861.21 L575.51,2855.68 L565.30,2849.60 L555.09,2842.95 L544.87,2835.68 L534.66,2828.62 L524.44,2821.19 L514.23,2813.39 L504.02,2805.23 L493.80,2796.69 L483.59,2787.80 L473.38,2778.53 L463.16,2768.90 L452.95,2758.89 L442.73,2748.53 L432.52,2737.79 L422.31,2726.69 L412.09,2715.22 L401.88,2703.38 L391.67,2691.18 L381.45,2678.60 L371.24,2665.67 L361.02,2652.36 L350.81,2638.69 L340.60,2624.65 L330.38,2610.24 L320.17,2595.46 L309.96,2580.32 L299.74,2564.81 L289.53,2548.93 L279.31,2532.69 L274.21,2516.08Z" fill="#fa7c17" fill-opacity="0.5" stroke="#fa7c17" stroke-opacity="0.5" stroke-width="2.78" stroke-linejoin="round"/><path d="M269.10,2548.04 L291.94,2560.21 L314.78,2576.13 L337.61,2596.21 L360.45,2620.49 L383.29,2648.47 L406.12,2679.07 L428.96,2710.75 L451.80,2741.84 L474.64,2770.82 L497.48,2796.62 L520.31,2818.72 L543.15,2837.06 L565.99,2851.90 L588.83,2863.69 L611.66,2872.93 L634.50,2880.10 L657.34,2885.64 L680.17,2889.90 L703.01,2893.16 L725.85,2895.67 L748.69,2897.60 L771.52,2899.09 L794.36,2900.23 L817.20,2901.12 L840.04,2901.81 L862.88,2902.34 L885.71,2902.76 L908.55,2903.09 L931.39,2903.34 L954.23,2903.54 L977.06,2903.70 L999.90,2903.83 L1022.74,2903.93 L1045.57,2904.01 L1068.41,2904.07 L1091.25,2904.13 L1114.09,2904.17 L1136.92,2904.20 L1159.76,2904.23 L1182.60,2904.25 L1205.44,2904.27 L1228.28,2904.28 L1251.11,2904.29 L1273.95,2904.30 L1296.79,2904.31 L1319.62,2904.32 L1342.46,2904.32 L1365.30,2904.33 L1388.14,2904.33 L1410.97,2904.33 L1433.81,2904.34 L1456.65,2904.34 L1479.49,2904.34 L1502.32,2904.34 L1525.16,2904.34 L1548.00,2904.34 L1570.84,2904.35 L1593.67,2904.35 L1616.51,2904.35 L1639.35,2904.35 L1662.19,2904.35 L1685.03,2904.35 L1707.86,2904.35 L1730.70,2904.35 L1753.54,2904.35 L1776.38,2904.35 L1799.21,2904.35 L1822.05,2904.35 L1844.89,2904.35 L1867.72,2904.35 L1890.56,2904.35 L1913.40,2904.35 L1936.24,2904.35 L1959.07,2904.35 L1981.91,2904.35 L2004.75,2904.35 L2027.59,2904.35 L2050.42,2904.35 L2073.26,2904.35 L2096.10,2904.35 L2118.94,2904.35 L2141.78,2904.35 L2164.61,2904.35 L2187.45,2904.35 L2210.29,2904.35 L2233.12,2904.35 L2255.96,2904.35 L2278.80,2904.35 L2301.64,2904.35" fill="none" stroke="#fa7c17" stroke-width="4.17" stroke-linecap="round" stroke-linejoin="round"/></g><rect x="1963.4" y="2556.45" width="77.2" height="26.9" fill="#fa7c17" fill-opacity="0.3" stroke="#fa7c17" stroke-opacity="0.3" stroke-width="2.78"/><rect x="1963.4" y="2613.45" width="77.2" height="26.9" fill="#fa7c17" fill-opacity="0.5" stroke="#fa7c17" stroke-opacity="0.5" stroke-width="2.78"/><path d="M1963.0,2683.95H2039.8" stroke="#fa7c17" stroke-width="4.17" stroke-linecap="round"/><text transform="matrix(0.42225 0 0 0.43099 2072.10 2584.32)" font-size="100" fill="#262626">94% HDI</text><text transform="matrix(0.42171 0 0 0.42817 2072.31 2641.52)" font-size="100" fill="#262626">50% HDI</text><text transform="matrix(0.44511 0 0 0.40642 2071.11 2697.52)" font-size="100" fill="#262626">posterior mean</text><text transform="matrix(0.49985 0 0 0.48028 1113.50 2500.97)" font-size="100" fill="#262626">Customer 1412</text><text transform="matrix(0 -0.48342 0.42353 0 49.91 2879.09)" font-size="100" fill="#262626">probability alive</text><text transform="matrix(0.42781 0 0 0.42676 72.59 2919.17)" font-size="100" fill="#262626">0.00</text><text transform="matrix(0.42895 0 0 0.42676 72.58 2822.70)" font-size="100" fill="#262626">0.25</text><text transform="matrix(0.42781 0 0 0.42676 72.59 2726.22)" font-size="100" fill="#262626">0.50</text><text transform="matrix(0.42895 0 0 0.42676 72.58 2629.75)" font-size="100" fill="#262626">0.75</text><text transform="matrix(0.43052 0 0 0.42676 72.07 2533.27)" font-size="100" fill="#262626">1.00</text></g>
<text transform="matrix(0.42500 0 0 0.42254 257.30 2943.88)" font-size="100" fill="#262626">0</text>
<text transform="matrix(0.43902 0 0 0.42254 701.45 2943.88)" font-size="100" fill="#262626">20</text>
<text transform="matrix(0.43128 0 0 0.42254 1159.29 2943.88)" font-size="100" fill="#262626">40</text>
<text transform="matrix(0.43902 0 0 0.42254 1614.95 2943.88)" font-size="100" fill="#262626">60</text>
<text transform="matrix(0.43382 0 0 0.41958 2072.21 2943.88)" font-size="100" fill="#262626">80</text>
<text transform="matrix(0.46180 0 0 0.44186 1230.65 2993.72)" font-size="100" fill="#262626">steps</text>
</svg></body></html>
